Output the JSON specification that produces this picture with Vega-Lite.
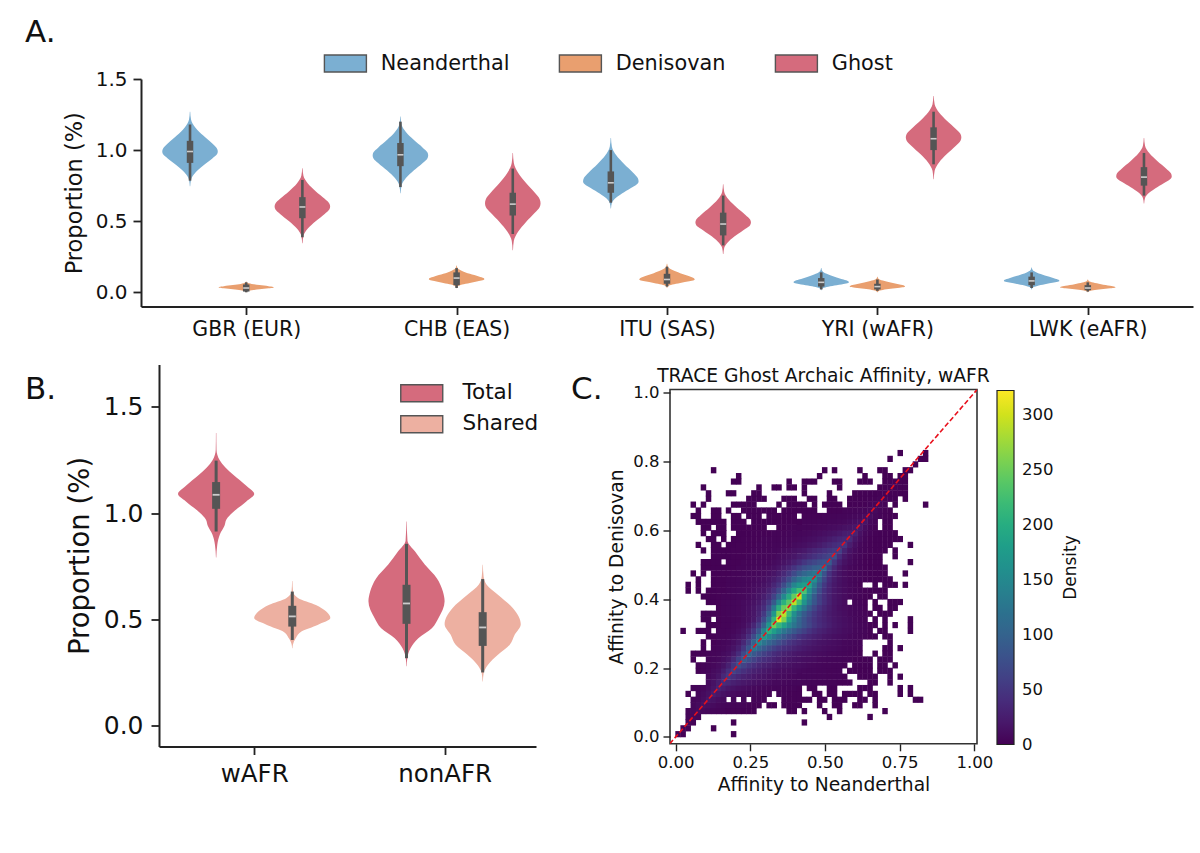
{
"$schema":"https://vega.github.io/schema/vega-lite/v6.json",
"background":"white",
"padding":{"left":25,"top":17,"right":5,"bottom":5},
"config":{"view":{"stroke":null},"font":"DejaVu Sans","axis":{"grid":false,"domainColor":"#222","tickColor":"#222","labelColor":"#111","titleColor":"#111","titleFontWeight":"normal"},"title":{"fontWeight":"normal","color":"#111"}},
"datasets":{
"violinA":[
{"pop":0,"sp":"Neanderthal","v":1.27,"lo":-0.268,"hi":-0.266},{"pop":0,"sp":"Neanderthal","v":1.214,"lo":-0.272,"hi":-0.262},{"pop":0,"sp":"Neanderthal","v":1.158,"lo":-0.293,"hi":-0.241},{"pop":0,"sp":"Neanderthal","v":1.102,"lo":-0.33,"hi":-0.204},{"pop":0,"sp":"Neanderthal","v":1.046,"lo":-0.373,"hi":-0.161},{"pop":0,"sp":"Neanderthal","v":1.012,"lo":-0.395,"hi":-0.139},{"pop":0,"sp":"Neanderthal","v":0.99,"lo":-0.399,"hi":-0.135},{"pop":0,"sp":"Neanderthal","v":0.97,"lo":-0.395,"hi":-0.139},{"pop":0,"sp":"Neanderthal","v":0.941,"lo":-0.373,"hi":-0.161},{"pop":0,"sp":"Neanderthal","v":0.892,"lo":-0.33,"hi":-0.204},{"pop":0,"sp":"Neanderthal","v":0.843,"lo":-0.293,"hi":-0.241},{"pop":0,"sp":"Neanderthal","v":0.794,"lo":-0.272,"hi":-0.262},{"pop":0,"sp":"Neanderthal","v":0.745,"lo":-0.268,"hi":-0.266},
{"pop":0,"sp":"Denisovan","v":0.075,"lo":-0.001,"hi":0.001},{"pop":0,"sp":"Denisovan","v":0.067,"lo":-0.005,"hi":0.005},{"pop":0,"sp":"Denisovan","v":0.059,"lo":-0.026,"hi":0.026},{"pop":0,"sp":"Denisovan","v":0.051,"lo":-0.063,"hi":0.063},{"pop":0,"sp":"Denisovan","v":0.043,"lo":-0.106,"hi":0.106},{"pop":0,"sp":"Denisovan","v":0.038,"lo":-0.128,"hi":0.128},{"pop":0,"sp":"Denisovan","v":0.035,"lo":-0.132,"hi":0.132},{"pop":0,"sp":"Denisovan","v":0.032,"lo":-0.128,"hi":0.128},{"pop":0,"sp":"Denisovan","v":0.028,"lo":-0.106,"hi":0.106},{"pop":0,"sp":"Denisovan","v":0.021,"lo":-0.063,"hi":0.063},{"pop":0,"sp":"Denisovan","v":0.014,"lo":-0.026,"hi":0.026},{"pop":0,"sp":"Denisovan","v":0.007,"lo":-0.005,"hi":0.005},{"pop":0,"sp":"Denisovan","v":0,"lo":-0.001,"hi":0.001},
{"pop":0,"sp":"Ghost","v":0.873,"lo":0.266,"hi":0.268},{"pop":0,"sp":"Ghost","v":0.819,"lo":0.262,"hi":0.272},{"pop":0,"sp":"Ghost","v":0.765,"lo":0.241,"hi":0.293},{"pop":0,"sp":"Ghost","v":0.711,"lo":0.204,"hi":0.33},{"pop":0,"sp":"Ghost","v":0.657,"lo":0.161,"hi":0.373},{"pop":0,"sp":"Ghost","v":0.625,"lo":0.139,"hi":0.395},{"pop":0,"sp":"Ghost","v":0.603,"lo":0.135,"hi":0.399},{"pop":0,"sp":"Ghost","v":0.582,"lo":0.139,"hi":0.395},{"pop":0,"sp":"Ghost","v":0.551,"lo":0.161,"hi":0.373},{"pop":0,"sp":"Ghost","v":0.5,"lo":0.204,"hi":0.33},{"pop":0,"sp":"Ghost","v":0.448,"lo":0.241,"hi":0.293},{"pop":0,"sp":"Ghost","v":0.397,"lo":0.262,"hi":0.272},{"pop":0,"sp":"Ghost","v":0.345,"lo":0.266,"hi":0.268},
{"pop":1,"sp":"Neanderthal","v":1.237,"lo":0.732,"hi":0.734},{"pop":1,"sp":"Neanderthal","v":1.182,"lo":0.728,"hi":0.738},{"pop":1,"sp":"Neanderthal","v":1.127,"lo":0.707,"hi":0.759},{"pop":1,"sp":"Neanderthal","v":1.072,"lo":0.67,"hi":0.796},{"pop":1,"sp":"Neanderthal","v":1.017,"lo":0.627,"hi":0.839},{"pop":1,"sp":"Neanderthal","v":0.984,"lo":0.605,"hi":0.861},{"pop":1,"sp":"Neanderthal","v":0.962,"lo":0.601,"hi":0.865},{"pop":1,"sp":"Neanderthal","v":0.941,"lo":0.605,"hi":0.861},{"pop":1,"sp":"Neanderthal","v":0.909,"lo":0.627,"hi":0.839},{"pop":1,"sp":"Neanderthal","v":0.856,"lo":0.67,"hi":0.796},{"pop":1,"sp":"Neanderthal","v":0.803,"lo":0.707,"hi":0.759},{"pop":1,"sp":"Neanderthal","v":0.75,"lo":0.728,"hi":0.738},{"pop":1,"sp":"Neanderthal","v":0.697,"lo":0.732,"hi":0.734},
{"pop":1,"sp":"Denisovan","v":0.188,"lo":0.999,"hi":1.001},{"pop":1,"sp":"Denisovan","v":0.169,"lo":0.995,"hi":1.005},{"pop":1,"sp":"Denisovan","v":0.15,"lo":0.974,"hi":1.026},{"pop":1,"sp":"Denisovan","v":0.13,"lo":0.937,"hi":1.063},{"pop":1,"sp":"Denisovan","v":0.111,"lo":0.894,"hi":1.106},{"pop":1,"sp":"Denisovan","v":0.1,"lo":0.872,"hi":1.128},{"pop":1,"sp":"Denisovan","v":0.092,"lo":0.868,"hi":1.132},{"pop":1,"sp":"Denisovan","v":0.087,"lo":0.872,"hi":1.128},{"pop":1,"sp":"Denisovan","v":0.079,"lo":0.894,"hi":1.106},{"pop":1,"sp":"Denisovan","v":0.066,"lo":0.937,"hi":1.063},{"pop":1,"sp":"Denisovan","v":0.054,"lo":0.974,"hi":1.026},{"pop":1,"sp":"Denisovan","v":0.041,"lo":0.995,"hi":1.005},{"pop":1,"sp":"Denisovan","v":0.028,"lo":0.999,"hi":1.001},
{"pop":1,"sp":"Ghost","v":0.98,"lo":1.266,"hi":1.268},{"pop":1,"sp":"Ghost","v":0.909,"lo":1.262,"hi":1.272},{"pop":1,"sp":"Ghost","v":0.839,"lo":1.241,"hi":1.293},{"pop":1,"sp":"Ghost","v":0.768,"lo":1.204,"hi":1.33},{"pop":1,"sp":"Ghost","v":0.698,"lo":1.161,"hi":1.373},{"pop":1,"sp":"Ghost","v":0.655,"lo":1.139,"hi":1.395},{"pop":1,"sp":"Ghost","v":0.627,"lo":1.135,"hi":1.399},{"pop":1,"sp":"Ghost","v":0.6,"lo":1.139,"hi":1.395},{"pop":1,"sp":"Ghost","v":0.561,"lo":1.161,"hi":1.373},{"pop":1,"sp":"Ghost","v":0.495,"lo":1.204,"hi":1.33},{"pop":1,"sp":"Ghost","v":0.428,"lo":1.241,"hi":1.293},{"pop":1,"sp":"Ghost","v":0.362,"lo":1.262,"hi":1.272},{"pop":1,"sp":"Ghost","v":0.296,"lo":1.266,"hi":1.268},
{"pop":2,"sp":"Neanderthal","v":1.085,"lo":1.732,"hi":1.734},{"pop":2,"sp":"Neanderthal","v":1.024,"lo":1.728,"hi":1.738},{"pop":2,"sp":"Neanderthal","v":0.963,"lo":1.707,"hi":1.759},{"pop":2,"sp":"Neanderthal","v":0.902,"lo":1.67,"hi":1.796},{"pop":2,"sp":"Neanderthal","v":0.841,"lo":1.627,"hi":1.839},{"pop":2,"sp":"Neanderthal","v":0.804,"lo":1.605,"hi":1.861},{"pop":2,"sp":"Neanderthal","v":0.78,"lo":1.601,"hi":1.865},{"pop":2,"sp":"Neanderthal","v":0.765,"lo":1.605,"hi":1.861},{"pop":2,"sp":"Neanderthal","v":0.742,"lo":1.627,"hi":1.839},{"pop":2,"sp":"Neanderthal","v":0.704,"lo":1.67,"hi":1.796},{"pop":2,"sp":"Neanderthal","v":0.666,"lo":1.707,"hi":1.759},{"pop":2,"sp":"Neanderthal","v":0.628,"lo":1.728,"hi":1.738},{"pop":2,"sp":"Neanderthal","v":0.59,"lo":1.732,"hi":1.734},
{"pop":2,"sp":"Denisovan","v":0.2,"lo":1.999,"hi":2.001},{"pop":2,"sp":"Denisovan","v":0.178,"lo":1.995,"hi":2.005},{"pop":2,"sp":"Denisovan","v":0.156,"lo":1.974,"hi":2.026},{"pop":2,"sp":"Denisovan","v":0.134,"lo":1.937,"hi":2.063},{"pop":2,"sp":"Denisovan","v":0.112,"lo":1.894,"hi":2.106},{"pop":2,"sp":"Denisovan","v":0.099,"lo":1.872,"hi":2.128},{"pop":2,"sp":"Denisovan","v":0.09,"lo":1.868,"hi":2.132},{"pop":2,"sp":"Denisovan","v":0.085,"lo":1.872,"hi":2.128},{"pop":2,"sp":"Denisovan","v":0.078,"lo":1.894,"hi":2.106},{"pop":2,"sp":"Denisovan","v":0.066,"lo":1.937,"hi":2.063},{"pop":2,"sp":"Denisovan","v":0.054,"lo":1.974,"hi":2.026},{"pop":2,"sp":"Denisovan","v":0.042,"lo":1.995,"hi":2.005},{"pop":2,"sp":"Denisovan","v":0.03,"lo":1.999,"hi":2.001},
{"pop":2,"sp":"Ghost","v":0.76,"lo":2.266,"hi":2.268},{"pop":2,"sp":"Ghost","v":0.706,"lo":2.262,"hi":2.272},{"pop":2,"sp":"Ghost","v":0.652,"lo":2.241,"hi":2.293},{"pop":2,"sp":"Ghost","v":0.598,"lo":2.204,"hi":2.33},{"pop":2,"sp":"Ghost","v":0.544,"lo":2.161,"hi":2.373},{"pop":2,"sp":"Ghost","v":0.512,"lo":2.139,"hi":2.395},{"pop":2,"sp":"Ghost","v":0.49,"lo":2.135,"hi":2.399},{"pop":2,"sp":"Ghost","v":0.472,"lo":2.139,"hi":2.395},{"pop":2,"sp":"Ghost","v":0.446,"lo":2.161,"hi":2.373},{"pop":2,"sp":"Ghost","v":0.402,"lo":2.204,"hi":2.33},{"pop":2,"sp":"Ghost","v":0.358,"lo":2.241,"hi":2.293},{"pop":2,"sp":"Ghost","v":0.314,"lo":2.262,"hi":2.272},{"pop":2,"sp":"Ghost","v":0.27,"lo":2.266,"hi":2.268},
{"pop":3,"sp":"Neanderthal","v":0.17,"lo":2.732,"hi":2.734},{"pop":3,"sp":"Neanderthal","v":0.15,"lo":2.728,"hi":2.738},{"pop":3,"sp":"Neanderthal","v":0.13,"lo":2.707,"hi":2.759},{"pop":3,"sp":"Neanderthal","v":0.11,"lo":2.67,"hi":2.796},{"pop":3,"sp":"Neanderthal","v":0.09,"lo":2.627,"hi":2.839},{"pop":3,"sp":"Neanderthal","v":0.078,"lo":2.605,"hi":2.861},{"pop":3,"sp":"Neanderthal","v":0.07,"lo":2.601,"hi":2.865},{"pop":3,"sp":"Neanderthal","v":0.066,"lo":2.605,"hi":2.861},{"pop":3,"sp":"Neanderthal","v":0.059,"lo":2.627,"hi":2.839},{"pop":3,"sp":"Neanderthal","v":0.048,"lo":2.67,"hi":2.796},{"pop":3,"sp":"Neanderthal","v":0.037,"lo":2.707,"hi":2.759},{"pop":3,"sp":"Neanderthal","v":0.026,"lo":2.728,"hi":2.738},{"pop":3,"sp":"Neanderthal","v":0.015,"lo":2.732,"hi":2.734},
{"pop":3,"sp":"Denisovan","v":0.11,"lo":2.999,"hi":3.001},{"pop":3,"sp":"Denisovan","v":0.096,"lo":2.995,"hi":3.005},{"pop":3,"sp":"Denisovan","v":0.082,"lo":2.974,"hi":3.026},{"pop":3,"sp":"Denisovan","v":0.068,"lo":2.937,"hi":3.063},{"pop":3,"sp":"Denisovan","v":0.054,"lo":2.894,"hi":3.106},{"pop":3,"sp":"Denisovan","v":0.046,"lo":2.872,"hi":3.128},{"pop":3,"sp":"Denisovan","v":0.04,"lo":2.868,"hi":3.132},{"pop":3,"sp":"Denisovan","v":0.037,"lo":2.872,"hi":3.128},{"pop":3,"sp":"Denisovan","v":0.032,"lo":2.894,"hi":3.106},{"pop":3,"sp":"Denisovan","v":0.024,"lo":2.937,"hi":3.063},{"pop":3,"sp":"Denisovan","v":0.016,"lo":2.974,"hi":3.026},{"pop":3,"sp":"Denisovan","v":0.008,"lo":2.995,"hi":3.005},{"pop":3,"sp":"Denisovan","v":0,"lo":2.999,"hi":3.001},
{"pop":3,"sp":"Ghost","v":1.38,"lo":3.266,"hi":3.268},{"pop":3,"sp":"Ghost","v":1.322,"lo":3.262,"hi":3.272},{"pop":3,"sp":"Ghost","v":1.264,"lo":3.241,"hi":3.293},{"pop":3,"sp":"Ghost","v":1.206,"lo":3.204,"hi":3.33},{"pop":3,"sp":"Ghost","v":1.148,"lo":3.161,"hi":3.373},{"pop":3,"sp":"Ghost","v":1.113,"lo":3.139,"hi":3.395},{"pop":3,"sp":"Ghost","v":1.09,"lo":3.135,"hi":3.399},{"pop":3,"sp":"Ghost","v":1.066,"lo":3.139,"hi":3.395},{"pop":3,"sp":"Ghost","v":1.031,"lo":3.161,"hi":3.373},{"pop":3,"sp":"Ghost","v":0.972,"lo":3.204,"hi":3.33},{"pop":3,"sp":"Ghost","v":0.913,"lo":3.241,"hi":3.293},{"pop":3,"sp":"Ghost","v":0.854,"lo":3.262,"hi":3.272},{"pop":3,"sp":"Ghost","v":0.795,"lo":3.266,"hi":3.268},
{"pop":4,"sp":"Neanderthal","v":0.175,"lo":3.732,"hi":3.734},{"pop":4,"sp":"Neanderthal","v":0.156,"lo":3.728,"hi":3.738},{"pop":4,"sp":"Neanderthal","v":0.137,"lo":3.707,"hi":3.759},{"pop":4,"sp":"Neanderthal","v":0.118,"lo":3.67,"hi":3.796},{"pop":4,"sp":"Neanderthal","v":0.099,"lo":3.627,"hi":3.839},{"pop":4,"sp":"Neanderthal","v":0.088,"lo":3.605,"hi":3.861},{"pop":4,"sp":"Neanderthal","v":0.08,"lo":3.601,"hi":3.865},{"pop":4,"sp":"Neanderthal","v":0.075,"lo":3.605,"hi":3.861},{"pop":4,"sp":"Neanderthal","v":0.068,"lo":3.627,"hi":3.839},{"pop":4,"sp":"Neanderthal","v":0.056,"lo":3.67,"hi":3.796},{"pop":4,"sp":"Neanderthal","v":0.044,"lo":3.707,"hi":3.759},{"pop":4,"sp":"Neanderthal","v":0.032,"lo":3.728,"hi":3.738},{"pop":4,"sp":"Neanderthal","v":0.02,"lo":3.732,"hi":3.734},
{"pop":4,"sp":"Denisovan","v":0.09,"lo":3.999,"hi":4.001},{"pop":4,"sp":"Denisovan","v":0.079,"lo":3.995,"hi":4.005},{"pop":4,"sp":"Denisovan","v":0.068,"lo":3.974,"hi":4.026},{"pop":4,"sp":"Denisovan","v":0.057,"lo":3.937,"hi":4.063},{"pop":4,"sp":"Denisovan","v":0.046,"lo":3.894,"hi":4.106},{"pop":4,"sp":"Denisovan","v":0.039,"lo":3.872,"hi":4.128},{"pop":4,"sp":"Denisovan","v":0.035,"lo":3.868,"hi":4.132},{"pop":4,"sp":"Denisovan","v":0.032,"lo":3.872,"hi":4.128},{"pop":4,"sp":"Denisovan","v":0.028,"lo":3.894,"hi":4.106},{"pop":4,"sp":"Denisovan","v":0.021,"lo":3.937,"hi":4.063},{"pop":4,"sp":"Denisovan","v":0.014,"lo":3.974,"hi":4.026},{"pop":4,"sp":"Denisovan","v":0.007,"lo":3.995,"hi":4.005},{"pop":4,"sp":"Denisovan","v":0,"lo":3.999,"hi":4.001},
{"pop":4,"sp":"Ghost","v":1.085,"lo":4.266,"hi":4.268},{"pop":4,"sp":"Ghost","v":1.031,"lo":4.262,"hi":4.272},{"pop":4,"sp":"Ghost","v":0.977,"lo":4.241,"hi":4.293},{"pop":4,"sp":"Ghost","v":0.923,"lo":4.204,"hi":4.33},{"pop":4,"sp":"Ghost","v":0.869,"lo":4.161,"hi":4.373},{"pop":4,"sp":"Ghost","v":0.837,"lo":4.139,"hi":4.395},{"pop":4,"sp":"Ghost","v":0.815,"lo":4.135,"hi":4.399},{"pop":4,"sp":"Ghost","v":0.8,"lo":4.139,"hi":4.395},{"pop":4,"sp":"Ghost","v":0.777,"lo":4.161,"hi":4.373},{"pop":4,"sp":"Ghost","v":0.739,"lo":4.204,"hi":4.33},{"pop":4,"sp":"Ghost","v":0.701,"lo":4.241,"hi":4.293},{"pop":4,"sp":"Ghost","v":0.663,"lo":4.262,"hi":4.272},{"pop":4,"sp":"Ghost","v":0.625,"lo":4.266,"hi":4.268}
],
"boxA":[
{"c":-0.267,"wlo":0.785,"q1":0.91,"med":0.99,"q3":1.065,"whi":1.18},
{"c":0,"wlo":0,"q1":0.005,"med":0.03,"q3":0.055,"whi":0.07},
{"c":0.267,"wlo":0.387,"q1":0.521,"med":0.6,"q3":0.669,"whi":0.79},
{"c":0.733,"wlo":0.74,"q1":0.887,"med":0.967,"q3":1.05,"whi":1.2},
{"c":1,"wlo":0.03,"q1":0.05,"med":0.1,"q3":0.14,"whi":0.17},
{"c":1.267,"wlo":0.41,"q1":0.54,"med":0.62,"q3":0.7,"whi":0.87},
{"c":1.733,"wlo":0.63,"q1":0.7,"med":0.77,"q3":0.85,"whi":1},
{"c":2,"wlo":0.04,"q1":0.06,"med":0.09,"q3":0.13,"whi":0.18},
{"c":2.267,"wlo":0.33,"q1":0.4,"med":0.48,"q3":0.56,"whi":0.68},
{"c":2.733,"wlo":0.02,"q1":0.04,"med":0.07,"q3":0.1,"whi":0.14},
{"c":3,"wlo":0.01,"q1":0.02,"med":0.04,"q3":0.06,"whi":0.09},
{"c":3.267,"wlo":0.9,"q1":1,"med":1.08,"q3":1.16,"whi":1.27},
{"c":3.733,"wlo":0.03,"q1":0.05,"med":0.08,"q3":0.11,"whi":0.14},
{"c":4,"wlo":0.005,"q1":0.015,"med":0.03,"q3":0.05,"whi":0.07},
{"c":4.267,"wlo":0.68,"q1":0.75,"med":0.81,"q3":0.88,"whi":0.98}
],
"violinB":[
{"pop":0,"sp":"Total","v":1.377,"lo":-0.201,"hi":-0.199},{"pop":0,"sp":"Total","v":1.3,"lo":-0.202,"hi":-0.198},{"pop":0,"sp":"Total","v":1.25,"lo":-0.218,"hi":-0.182},{"pop":0,"sp":"Total","v":1.18,"lo":-0.29,"hi":-0.11},{"pop":0,"sp":"Total","v":1.127,"lo":-0.36,"hi":-0.04},{"pop":0,"sp":"Total","v":1.09,"lo":-0.4,"hi":0},{"pop":0,"sp":"Total","v":1.056,"lo":-0.36,"hi":-0.04},{"pop":0,"sp":"Total","v":1,"lo":-0.284,"hi":-0.116},{"pop":0,"sp":"Total","v":0.97,"lo":-0.254,"hi":-0.146},{"pop":0,"sp":"Total","v":0.94,"lo":-0.244,"hi":-0.156},{"pop":0,"sp":"Total","v":0.9,"lo":-0.22,"hi":-0.18},{"pop":0,"sp":"Total","v":0.85,"lo":-0.206,"hi":-0.194},{"pop":0,"sp":"Total","v":0.79,"lo":-0.201,"hi":-0.199},
{"pop":0,"sp":"Shared","v":0.68,"lo":0.199,"hi":0.201},{"pop":0,"sp":"Shared","v":0.63,"lo":0.196,"hi":0.204},{"pop":0,"sp":"Shared","v":0.6,"lo":0.17,"hi":0.23},{"pop":0,"sp":"Shared","v":0.567,"lo":0.076,"hi":0.324},{"pop":0,"sp":"Shared","v":0.537,"lo":0.023,"hi":0.377},{"pop":0,"sp":"Shared","v":0.505,"lo":0,"hi":0.4},{"pop":0,"sp":"Shared","v":0.473,"lo":0.067,"hi":0.333},{"pop":0,"sp":"Shared","v":0.443,"lo":0.15,"hi":0.25},{"pop":0,"sp":"Shared","v":0.41,"lo":0.182,"hi":0.218},{"pop":0,"sp":"Shared","v":0.38,"lo":0.197,"hi":0.203},{"pop":0,"sp":"Shared","v":0.363,"lo":0.199,"hi":0.201},
{"pop":1,"sp":"Total","v":0.96,"lo":0.799,"hi":0.801},{"pop":1,"sp":"Total","v":0.87,"lo":0.795,"hi":0.805},{"pop":1,"sp":"Total","v":0.82,"lo":0.756,"hi":0.844},{"pop":1,"sp":"Total","v":0.756,"lo":0.703,"hi":0.897},{"pop":1,"sp":"Total","v":0.693,"lo":0.641,"hi":0.959},{"pop":1,"sp":"Total","v":0.63,"lo":0.609,"hi":0.991},{"pop":1,"sp":"Total","v":0.584,"lo":0.6,"hi":1},{"pop":1,"sp":"Total","v":0.505,"lo":0.632,"hi":0.968},{"pop":1,"sp":"Total","v":0.457,"lo":0.667,"hi":0.933},{"pop":1,"sp":"Total","v":0.41,"lo":0.738,"hi":0.862},{"pop":1,"sp":"Total","v":0.363,"lo":0.779,"hi":0.821},{"pop":1,"sp":"Total","v":0.316,"lo":0.796,"hi":0.804},{"pop":1,"sp":"Total","v":0.278,"lo":0.799,"hi":0.801},
{"pop":1,"sp":"Shared","v":0.756,"lo":1.199,"hi":1.201},{"pop":1,"sp":"Shared","v":0.7,"lo":1.195,"hi":1.205},{"pop":1,"sp":"Shared","v":0.662,"lo":1.179,"hi":1.221},{"pop":1,"sp":"Shared","v":0.615,"lo":1.12,"hi":1.28},{"pop":1,"sp":"Shared","v":0.552,"lo":1.041,"hi":1.359},{"pop":1,"sp":"Shared","v":0.476,"lo":1,"hi":1.4},{"pop":1,"sp":"Shared","v":0.426,"lo":1.032,"hi":1.368},{"pop":1,"sp":"Shared","v":0.379,"lo":1.058,"hi":1.342},{"pop":1,"sp":"Shared","v":0.332,"lo":1.12,"hi":1.28},{"pop":1,"sp":"Shared","v":0.284,"lo":1.173,"hi":1.227},{"pop":1,"sp":"Shared","v":0.245,"lo":1.195,"hi":1.205},{"pop":1,"sp":"Shared","v":0.206,"lo":1.199,"hi":1.201}
],
"boxB":[
{"c":-0.2,"wlo":0.913,"q1":1.02,"med":1.086,"q3":1.146,"whi":1.247},
{"c":0.2,"wlo":0.402,"q1":0.465,"med":0.513,"q3":0.563,"whi":0.63},
{"c":0.8,"wlo":0.316,"q1":0.478,"med":0.574,"q3":0.662,"whi":0.855},
{"c":1.2,"wlo":0.249,"q1":0.374,"med":0.461,"q3":0.533,"whi":0.689}
],
"heat":[
{"x":0.008,"y":0.008,"n":3},{"x":0.025,"y":0.008,"n":2},{"x":0.194,"y":0.008,"n":1},
{"x":0.025,"y":0.025,"n":3},{"x":0.042,"y":0.025,"n":3},{"x":0.127,"y":0.025,"n":1},
{"x":0.042,"y":0.042,"n":4},{"x":0.059,"y":0.042,"n":3},{"x":0.194,"y":0.042,"n":1},{"x":0.431,"y":0.042,"n":1},
{"x":0.042,"y":0.058,"n":4},{"x":0.059,"y":0.058,"n":6},{"x":0.076,"y":0.058,"n":4},{"x":0.515,"y":0.058,"n":1},{"x":0.651,"y":0.058,"n":1},
{"x":0.042,"y":0.075,"n":3},{"x":0.059,"y":0.075,"n":6},{"x":0.076,"y":0.075,"n":8},{"x":0.093,"y":0.075,"n":7},{"x":0.11,"y":0.075,"n":5},{"x":0.127,"y":0.075,"n":4},{"x":0.144,"y":0.075,"n":3},{"x":0.161,"y":0.075,"n":3},{"x":0.177,"y":0.075,"n":2},{"x":0.194,"y":0.075,"n":2},{"x":0.211,"y":0.075,"n":2},{"x":0.228,"y":0.075,"n":1},{"x":0.245,"y":0.075,"n":1},{"x":0.262,"y":0.075,"n":1},{"x":0.38,"y":0.075,"n":1},{"x":0.397,"y":0.075,"n":1},{"x":0.431,"y":0.075,"n":1},{"x":0.499,"y":0.075,"n":1},{"x":0.549,"y":0.075,"n":1},{"x":0.701,"y":0.075,"n":1},
{"x":0.059,"y":0.092,"n":5},{"x":0.076,"y":0.092,"n":8},{"x":0.093,"y":0.092,"n":13},{"x":0.11,"y":0.092,"n":10},{"x":0.127,"y":0.092,"n":8},{"x":0.144,"y":0.092,"n":6},{"x":0.161,"y":0.092,"n":5},{"x":0.177,"y":0.092,"n":4},{"x":0.194,"y":0.092,"n":3},{"x":0.211,"y":0.092,"n":3},{"x":0.228,"y":0.092,"n":3},{"x":0.245,"y":0.092,"n":2},{"x":0.262,"y":0.092,"n":2},{"x":0.279,"y":0.092,"n":2},{"x":0.33,"y":0.092,"n":1},{"x":0.313,"y":0.092,"n":1},{"x":0.363,"y":0.092,"n":1},{"x":0.38,"y":0.092,"n":1},{"x":0.397,"y":0.092,"n":1},{"x":0.414,"y":0.092,"n":1},{"x":0.482,"y":0.092,"n":1},{"x":0.532,"y":0.092,"n":1},{"x":0.549,"y":0.092,"n":1},{"x":0.6,"y":0.092,"n":1},{"x":0.617,"y":0.092,"n":1},{"x":0.668,"y":0.092,"n":1},
{"x":0.059,"y":0.108,"n":4},{"x":0.076,"y":0.108,"n":6},{"x":0.093,"y":0.108,"n":10},{"x":0.11,"y":0.108,"n":18},{"x":0.127,"y":0.108,"n":14},{"x":0.144,"y":0.108,"n":10},{"x":0.161,"y":0.108,"n":8},{"x":0.194,"y":0.108,"n":5},{"x":0.228,"y":0.108,"n":4},{"x":0.262,"y":0.108,"n":3},{"x":0.279,"y":0.108,"n":3},{"x":0.296,"y":0.108,"n":3},{"x":0.363,"y":0.108,"n":2},{"x":0.38,"y":0.108,"n":2},{"x":0.397,"y":0.108,"n":2},{"x":0.414,"y":0.108,"n":2},{"x":0.431,"y":0.108,"n":1},{"x":0.448,"y":0.108,"n":1},{"x":0.482,"y":0.108,"n":1},{"x":0.499,"y":0.108,"n":1},{"x":0.532,"y":0.108,"n":1},{"x":0.549,"y":0.108,"n":1},{"x":0.566,"y":0.108,"n":1},{"x":0.617,"y":0.108,"n":1},{"x":0.634,"y":0.108,"n":1},{"x":0.668,"y":0.108,"n":1},{"x":0.803,"y":0.108,"n":1},{"x":0.82,"y":0.108,"n":1},
{"x":0.042,"y":0.125,"n":2},{"x":0.076,"y":0.125,"n":5},{"x":0.093,"y":0.125,"n":8},{"x":0.11,"y":0.125,"n":13},{"x":0.127,"y":0.125,"n":24},{"x":0.144,"y":0.125,"n":18},{"x":0.161,"y":0.125,"n":14},{"x":0.177,"y":0.125,"n":11},{"x":0.194,"y":0.125,"n":9},{"x":0.211,"y":0.125,"n":7},{"x":0.228,"y":0.125,"n":6},{"x":0.245,"y":0.125,"n":5},{"x":0.262,"y":0.125,"n":4},{"x":0.279,"y":0.125,"n":4},{"x":0.296,"y":0.125,"n":3},{"x":0.313,"y":0.125,"n":3},{"x":0.346,"y":0.125,"n":3},{"x":0.363,"y":0.125,"n":3},{"x":0.38,"y":0.125,"n":2},{"x":0.397,"y":0.125,"n":2},{"x":0.414,"y":0.125,"n":2},{"x":0.465,"y":0.125,"n":2},{"x":0.482,"y":0.125,"n":1},{"x":0.515,"y":0.125,"n":1},{"x":0.532,"y":0.125,"n":1},{"x":0.566,"y":0.125,"n":1},{"x":0.583,"y":0.125,"n":1},{"x":0.6,"y":0.125,"n":1},{"x":0.617,"y":0.125,"n":1},{"x":0.651,"y":0.125,"n":1},{"x":0.668,"y":0.125,"n":1},{"x":0.752,"y":0.125,"n":1},{"x":0.786,"y":0.125,"n":1},
{"x":0.059,"y":0.142,"n":3},{"x":0.076,"y":0.142,"n":4},{"x":0.093,"y":0.142,"n":6},{"x":0.11,"y":0.142,"n":10},{"x":0.127,"y":0.142,"n":17},{"x":0.144,"y":0.142,"n":30},{"x":0.161,"y":0.142,"n":24},{"x":0.177,"y":0.142,"n":18},{"x":0.194,"y":0.142,"n":15},{"x":0.211,"y":0.142,"n":12},{"x":0.228,"y":0.142,"n":10},{"x":0.245,"y":0.142,"n":8},{"x":0.262,"y":0.142,"n":7},{"x":0.279,"y":0.142,"n":6},{"x":0.296,"y":0.142,"n":5},{"x":0.313,"y":0.142,"n":4},{"x":0.33,"y":0.142,"n":4},{"x":0.346,"y":0.142,"n":4},{"x":0.363,"y":0.142,"n":3},{"x":0.38,"y":0.142,"n":3},{"x":0.397,"y":0.142,"n":3},{"x":0.414,"y":0.142,"n":2},{"x":0.448,"y":0.142,"n":2},{"x":0.465,"y":0.142,"n":2},{"x":0.515,"y":0.142,"n":1},{"x":0.532,"y":0.142,"n":1},{"x":0.617,"y":0.142,"n":1},{"x":0.634,"y":0.142,"n":1},{"x":0.651,"y":0.142,"n":1},{"x":0.752,"y":0.142,"n":1},{"x":0.786,"y":0.142,"n":1},
{"x":0.11,"y":0.158,"n":8},{"x":0.127,"y":0.158,"n":14},{"x":0.144,"y":0.158,"n":24},{"x":0.161,"y":0.158,"n":40},{"x":0.177,"y":0.158,"n":34},{"x":0.194,"y":0.158,"n":27},{"x":0.211,"y":0.158,"n":23},{"x":0.228,"y":0.158,"n":20},{"x":0.245,"y":0.158,"n":17},{"x":0.262,"y":0.158,"n":14},{"x":0.279,"y":0.158,"n":12},{"x":0.296,"y":0.158,"n":11},{"x":0.313,"y":0.158,"n":9},{"x":0.33,"y":0.158,"n":7},{"x":0.346,"y":0.158,"n":7},{"x":0.363,"y":0.158,"n":6},{"x":0.38,"y":0.158,"n":5},{"x":0.397,"y":0.158,"n":5},{"x":0.414,"y":0.158,"n":5},{"x":0.431,"y":0.158,"n":4},{"x":0.448,"y":0.158,"n":4},{"x":0.465,"y":0.158,"n":4},{"x":0.482,"y":0.158,"n":3},{"x":0.499,"y":0.158,"n":3},{"x":0.515,"y":0.158,"n":3},{"x":0.532,"y":0.158,"n":3},{"x":0.549,"y":0.158,"n":2},{"x":0.566,"y":0.158,"n":2},{"x":0.583,"y":0.158,"n":2},{"x":0.651,"y":0.158,"n":1},{"x":0.668,"y":0.158,"n":1},{"x":0.718,"y":0.158,"n":1},
{"x":0.11,"y":0.175,"n":7},{"x":0.127,"y":0.175,"n":10},{"x":0.144,"y":0.175,"n":17},{"x":0.161,"y":0.175,"n":35},{"x":0.177,"y":0.175,"n":50},{"x":0.194,"y":0.175,"n":42},{"x":0.211,"y":0.175,"n":34},{"x":0.228,"y":0.175,"n":28},{"x":0.245,"y":0.175,"n":24},{"x":0.262,"y":0.175,"n":20},{"x":0.279,"y":0.175,"n":17},{"x":0.296,"y":0.175,"n":15},{"x":0.313,"y":0.175,"n":12},{"x":0.33,"y":0.175,"n":10},{"x":0.346,"y":0.175,"n":9},{"x":0.363,"y":0.175,"n":8},{"x":0.38,"y":0.175,"n":7},{"x":0.397,"y":0.175,"n":6},{"x":0.414,"y":0.175,"n":5},{"x":0.431,"y":0.175,"n":5},{"x":0.448,"y":0.175,"n":5},{"x":0.465,"y":0.175,"n":4},{"x":0.482,"y":0.175,"n":4},{"x":0.499,"y":0.175,"n":4},{"x":0.515,"y":0.175,"n":3},{"x":0.532,"y":0.175,"n":3},{"x":0.549,"y":0.175,"n":3},{"x":0.566,"y":0.175,"n":2},{"x":0.617,"y":0.175,"n":1},{"x":0.634,"y":0.175,"n":1},{"x":0.651,"y":0.175,"n":1},{"x":0.668,"y":0.175,"n":1},{"x":0.718,"y":0.175,"n":1},{"x":0.752,"y":0.175,"n":1},
{"x":0.076,"y":0.192,"n":2},{"x":0.093,"y":0.192,"n":3},{"x":0.11,"y":0.192,"n":5},{"x":0.127,"y":0.192,"n":8},{"x":0.144,"y":0.192,"n":12},{"x":0.161,"y":0.192,"n":24},{"x":0.177,"y":0.192,"n":42},{"x":0.194,"y":0.192,"n":62},{"x":0.211,"y":0.192,"n":52},{"x":0.228,"y":0.192,"n":43},{"x":0.245,"y":0.192,"n":35},{"x":0.262,"y":0.192,"n":28},{"x":0.279,"y":0.192,"n":24},{"x":0.296,"y":0.192,"n":20},{"x":0.313,"y":0.192,"n":16},{"x":0.33,"y":0.192,"n":13},{"x":0.346,"y":0.192,"n":12},{"x":0.363,"y":0.192,"n":10},{"x":0.38,"y":0.192,"n":9},{"x":0.397,"y":0.192,"n":8},{"x":0.414,"y":0.192,"n":7},{"x":0.431,"y":0.192,"n":6},{"x":0.448,"y":0.192,"n":5},{"x":0.465,"y":0.192,"n":5},{"x":0.482,"y":0.192,"n":4},{"x":0.499,"y":0.192,"n":4},{"x":0.515,"y":0.192,"n":3},{"x":0.532,"y":0.192,"n":3},{"x":0.549,"y":0.192,"n":3},{"x":0.583,"y":0.192,"n":1},{"x":0.6,"y":0.192,"n":1},{"x":0.617,"y":0.192,"n":1},{"x":0.634,"y":0.192,"n":1},{"x":0.651,"y":0.192,"n":1},{"x":0.684,"y":0.192,"n":1},{"x":0.701,"y":0.192,"n":1},{"x":0.718,"y":0.192,"n":1},
{"x":0.076,"y":0.208,"n":2},{"x":0.093,"y":0.208,"n":3},{"x":0.11,"y":0.208,"n":4},{"x":0.127,"y":0.208,"n":6},{"x":0.144,"y":0.208,"n":9},{"x":0.161,"y":0.208,"n":15},{"x":0.177,"y":0.208,"n":28},{"x":0.194,"y":0.208,"n":50},{"x":0.211,"y":0.208,"n":75},{"x":0.228,"y":0.208,"n":62},{"x":0.245,"y":0.208,"n":50},{"x":0.262,"y":0.208,"n":42},{"x":0.279,"y":0.208,"n":33},{"x":0.296,"y":0.208,"n":28},{"x":0.313,"y":0.208,"n":24},{"x":0.33,"y":0.208,"n":19},{"x":0.346,"y":0.208,"n":16},{"x":0.363,"y":0.208,"n":15},{"x":0.38,"y":0.208,"n":13},{"x":0.397,"y":0.208,"n":11},{"x":0.414,"y":0.208,"n":10},{"x":0.431,"y":0.208,"n":8},{"x":0.448,"y":0.208,"n":7},{"x":0.465,"y":0.208,"n":6},{"x":0.482,"y":0.208,"n":5},{"x":0.499,"y":0.208,"n":4},{"x":0.515,"y":0.208,"n":4},{"x":0.532,"y":0.208,"n":3},{"x":0.549,"y":0.208,"n":3},{"x":0.566,"y":0.208,"n":2},{"x":0.6,"y":0.208,"n":1},{"x":0.617,"y":0.208,"n":1},{"x":0.634,"y":0.208,"n":1},{"x":0.651,"y":0.208,"n":1},{"x":0.684,"y":0.208,"n":1},{"x":0.701,"y":0.208,"n":1},{"x":0.735,"y":0.208,"n":1},
{"x":0.059,"y":0.225,"n":2},{"x":0.11,"y":0.225,"n":3},{"x":0.127,"y":0.225,"n":5},{"x":0.144,"y":0.225,"n":7},{"x":0.161,"y":0.225,"n":11},{"x":0.177,"y":0.225,"n":18},{"x":0.194,"y":0.225,"n":35},{"x":0.211,"y":0.225,"n":60},{"x":0.228,"y":0.225,"n":90},{"x":0.245,"y":0.225,"n":75},{"x":0.262,"y":0.225,"n":62},{"x":0.279,"y":0.225,"n":50},{"x":0.296,"y":0.225,"n":42},{"x":0.313,"y":0.225,"n":36},{"x":0.33,"y":0.225,"n":30},{"x":0.346,"y":0.225,"n":25},{"x":0.363,"y":0.225,"n":20},{"x":0.38,"y":0.225,"n":18},{"x":0.397,"y":0.225,"n":15},{"x":0.414,"y":0.225,"n":13},{"x":0.431,"y":0.225,"n":11},{"x":0.448,"y":0.225,"n":10},{"x":0.465,"y":0.225,"n":9},{"x":0.482,"y":0.225,"n":7},{"x":0.499,"y":0.225,"n":6},{"x":0.515,"y":0.225,"n":5},{"x":0.532,"y":0.225,"n":4},{"x":0.549,"y":0.225,"n":4},{"x":0.566,"y":0.225,"n":3},{"x":0.583,"y":0.225,"n":3},{"x":0.6,"y":0.225,"n":2},{"x":0.617,"y":0.225,"n":2},{"x":0.634,"y":0.225,"n":1},{"x":0.651,"y":0.225,"n":1},{"x":0.684,"y":0.225,"n":1},{"x":0.701,"y":0.225,"n":1},{"x":0.718,"y":0.225,"n":1},
{"x":0.059,"y":0.242,"n":1},{"x":0.076,"y":0.242,"n":1},{"x":0.093,"y":0.242,"n":2},{"x":0.11,"y":0.242,"n":3},{"x":0.127,"y":0.242,"n":4},{"x":0.144,"y":0.242,"n":5},{"x":0.161,"y":0.242,"n":8},{"x":0.177,"y":0.242,"n":12},{"x":0.194,"y":0.242,"n":22},{"x":0.211,"y":0.242,"n":40},{"x":0.228,"y":0.242,"n":70},{"x":0.245,"y":0.242,"n":105},{"x":0.262,"y":0.242,"n":88},{"x":0.279,"y":0.242,"n":72},{"x":0.296,"y":0.242,"n":60},{"x":0.313,"y":0.242,"n":50},{"x":0.33,"y":0.242,"n":40},{"x":0.346,"y":0.242,"n":34},{"x":0.363,"y":0.242,"n":28},{"x":0.38,"y":0.242,"n":24},{"x":0.397,"y":0.242,"n":20},{"x":0.414,"y":0.242,"n":17},{"x":0.431,"y":0.242,"n":15},{"x":0.448,"y":0.242,"n":13},{"x":0.465,"y":0.242,"n":11},{"x":0.482,"y":0.242,"n":9},{"x":0.499,"y":0.242,"n":8},{"x":0.515,"y":0.242,"n":7},{"x":0.532,"y":0.242,"n":6},{"x":0.549,"y":0.242,"n":5},{"x":0.566,"y":0.242,"n":4},{"x":0.583,"y":0.242,"n":3},{"x":0.6,"y":0.242,"n":3},{"x":0.617,"y":0.242,"n":2},{"x":0.668,"y":0.242,"n":1},{"x":0.701,"y":0.242,"n":1},{"x":0.718,"y":0.242,"n":1},
{"x":0.093,"y":0.258,"n":1},{"x":0.127,"y":0.258,"n":3},{"x":0.144,"y":0.258,"n":4},{"x":0.161,"y":0.258,"n":6},{"x":0.177,"y":0.258,"n":9},{"x":0.194,"y":0.258,"n":15},{"x":0.211,"y":0.258,"n":26},{"x":0.228,"y":0.258,"n":50},{"x":0.245,"y":0.258,"n":85},{"x":0.262,"y":0.258,"n":125},{"x":0.279,"y":0.258,"n":105},{"x":0.296,"y":0.258,"n":88},{"x":0.313,"y":0.258,"n":72},{"x":0.33,"y":0.258,"n":60},{"x":0.346,"y":0.258,"n":50},{"x":0.363,"y":0.258,"n":42},{"x":0.38,"y":0.258,"n":36},{"x":0.397,"y":0.258,"n":30},{"x":0.414,"y":0.258,"n":25},{"x":0.431,"y":0.258,"n":21},{"x":0.448,"y":0.258,"n":18},{"x":0.465,"y":0.258,"n":15},{"x":0.482,"y":0.258,"n":13},{"x":0.499,"y":0.258,"n":11},{"x":0.515,"y":0.258,"n":9},{"x":0.532,"y":0.258,"n":8},{"x":0.549,"y":0.258,"n":7},{"x":0.566,"y":0.258,"n":5},{"x":0.583,"y":0.258,"n":4},{"x":0.6,"y":0.258,"n":3},{"x":0.617,"y":0.258,"n":3},{"x":0.701,"y":0.258,"n":1},{"x":0.718,"y":0.258,"n":1},{"x":0.752,"y":0.258,"n":1},
{"x":0.093,"y":0.275,"n":1},{"x":0.127,"y":0.275,"n":2},{"x":0.144,"y":0.275,"n":3},{"x":0.161,"y":0.275,"n":5},{"x":0.177,"y":0.275,"n":7},{"x":0.194,"y":0.275,"n":11},{"x":0.211,"y":0.275,"n":18},{"x":0.228,"y":0.275,"n":34},{"x":0.245,"y":0.275,"n":60},{"x":0.262,"y":0.275,"n":100},{"x":0.279,"y":0.275,"n":150},{"x":0.296,"y":0.275,"n":125},{"x":0.313,"y":0.275,"n":105},{"x":0.33,"y":0.275,"n":90},{"x":0.346,"y":0.275,"n":75},{"x":0.363,"y":0.275,"n":62},{"x":0.38,"y":0.275,"n":50},{"x":0.397,"y":0.275,"n":42},{"x":0.414,"y":0.275,"n":35},{"x":0.431,"y":0.275,"n":28},{"x":0.448,"y":0.275,"n":24},{"x":0.465,"y":0.275,"n":20},{"x":0.482,"y":0.275,"n":16},{"x":0.499,"y":0.275,"n":14},{"x":0.515,"y":0.275,"n":12},{"x":0.532,"y":0.275,"n":10},{"x":0.549,"y":0.275,"n":8},{"x":0.566,"y":0.275,"n":6},{"x":0.583,"y":0.275,"n":5},{"x":0.6,"y":0.275,"n":4},{"x":0.617,"y":0.275,"n":3},{"x":0.718,"y":0.275,"n":1},
{"x":0.11,"y":0.292,"n":2},{"x":0.127,"y":0.292,"n":2},{"x":0.144,"y":0.292,"n":3},{"x":0.161,"y":0.292,"n":4},{"x":0.177,"y":0.292,"n":5},{"x":0.194,"y":0.292,"n":8},{"x":0.211,"y":0.292,"n":13},{"x":0.228,"y":0.292,"n":22},{"x":0.245,"y":0.292,"n":42},{"x":0.262,"y":0.292,"n":72},{"x":0.279,"y":0.292,"n":120},{"x":0.296,"y":0.292,"n":175},{"x":0.313,"y":0.292,"n":150},{"x":0.33,"y":0.292,"n":125},{"x":0.346,"y":0.292,"n":105},{"x":0.363,"y":0.292,"n":88},{"x":0.38,"y":0.292,"n":72},{"x":0.397,"y":0.292,"n":60},{"x":0.414,"y":0.292,"n":48},{"x":0.431,"y":0.292,"n":40},{"x":0.448,"y":0.292,"n":33},{"x":0.465,"y":0.292,"n":27},{"x":0.482,"y":0.292,"n":23},{"x":0.499,"y":0.292,"n":18},{"x":0.515,"y":0.292,"n":15},{"x":0.532,"y":0.292,"n":12},{"x":0.549,"y":0.292,"n":10},{"x":0.566,"y":0.292,"n":8},{"x":0.583,"y":0.292,"n":6},{"x":0.6,"y":0.292,"n":5},{"x":0.617,"y":0.292,"n":4},{"x":0.634,"y":0.292,"n":3},{"x":0.651,"y":0.292,"n":2},{"x":0.668,"y":0.292,"n":1},{"x":0.701,"y":0.292,"n":1},{"x":0.718,"y":0.292,"n":1},
{"x":0.025,"y":0.308,"n":1},{"x":0.076,"y":0.308,"n":1},{"x":0.093,"y":0.308,"n":1},{"x":0.11,"y":0.308,"n":2},{"x":0.144,"y":0.308,"n":3},{"x":0.161,"y":0.308,"n":3},{"x":0.177,"y":0.308,"n":4},{"x":0.194,"y":0.308,"n":6},{"x":0.211,"y":0.308,"n":9},{"x":0.228,"y":0.308,"n":15},{"x":0.245,"y":0.308,"n":28},{"x":0.262,"y":0.308,"n":50},{"x":0.279,"y":0.308,"n":85},{"x":0.296,"y":0.308,"n":145},{"x":0.313,"y":0.308,"n":205},{"x":0.33,"y":0.308,"n":180},{"x":0.346,"y":0.308,"n":150},{"x":0.363,"y":0.308,"n":125},{"x":0.38,"y":0.308,"n":105},{"x":0.397,"y":0.308,"n":88},{"x":0.414,"y":0.308,"n":72},{"x":0.431,"y":0.308,"n":60},{"x":0.448,"y":0.308,"n":48},{"x":0.465,"y":0.308,"n":38},{"x":0.482,"y":0.308,"n":30},{"x":0.499,"y":0.308,"n":25},{"x":0.515,"y":0.308,"n":20},{"x":0.532,"y":0.308,"n":16},{"x":0.549,"y":0.308,"n":13},{"x":0.566,"y":0.308,"n":10},{"x":0.583,"y":0.308,"n":8},{"x":0.6,"y":0.308,"n":6},{"x":0.617,"y":0.308,"n":5},{"x":0.634,"y":0.308,"n":4},{"x":0.651,"y":0.308,"n":2},{"x":0.684,"y":0.308,"n":1},{"x":0.701,"y":0.308,"n":1},{"x":0.786,"y":0.308,"n":1},
{"x":0.11,"y":0.325,"n":1},{"x":0.127,"y":0.325,"n":1},{"x":0.144,"y":0.325,"n":2},{"x":0.161,"y":0.325,"n":3},{"x":0.177,"y":0.325,"n":3},{"x":0.194,"y":0.325,"n":5},{"x":0.211,"y":0.325,"n":7},{"x":0.228,"y":0.325,"n":10},{"x":0.245,"y":0.325,"n":18},{"x":0.262,"y":0.325,"n":32},{"x":0.279,"y":0.325,"n":58},{"x":0.296,"y":0.325,"n":100},{"x":0.313,"y":0.325,"n":170},{"x":0.33,"y":0.325,"n":250},{"x":0.346,"y":0.325,"n":215},{"x":0.363,"y":0.325,"n":185},{"x":0.38,"y":0.325,"n":150},{"x":0.397,"y":0.325,"n":125},{"x":0.414,"y":0.325,"n":100},{"x":0.431,"y":0.325,"n":80},{"x":0.448,"y":0.325,"n":65},{"x":0.465,"y":0.325,"n":50},{"x":0.482,"y":0.325,"n":40},{"x":0.499,"y":0.325,"n":32},{"x":0.515,"y":0.325,"n":25},{"x":0.532,"y":0.325,"n":19},{"x":0.549,"y":0.325,"n":15},{"x":0.566,"y":0.325,"n":12},{"x":0.583,"y":0.325,"n":9},{"x":0.6,"y":0.325,"n":7},{"x":0.617,"y":0.325,"n":5},{"x":0.634,"y":0.325,"n":4},{"x":0.651,"y":0.325,"n":2},{"x":0.668,"y":0.325,"n":1},{"x":0.701,"y":0.325,"n":1},{"x":0.735,"y":0.325,"n":1},{"x":0.786,"y":0.325,"n":1},
{"x":0.093,"y":0.342,"n":1},{"x":0.11,"y":0.342,"n":1},{"x":0.144,"y":0.342,"n":2},{"x":0.161,"y":0.342,"n":3},{"x":0.177,"y":0.342,"n":3},{"x":0.194,"y":0.342,"n":4},{"x":0.211,"y":0.342,"n":5},{"x":0.228,"y":0.342,"n":8},{"x":0.245,"y":0.342,"n":12},{"x":0.262,"y":0.342,"n":20},{"x":0.279,"y":0.342,"n":38},{"x":0.296,"y":0.342,"n":70},{"x":0.313,"y":0.342,"n":125},{"x":0.33,"y":0.342,"n":215},{"x":0.346,"y":0.342,"n":310},{"x":0.363,"y":0.342,"n":260},{"x":0.38,"y":0.342,"n":190},{"x":0.397,"y":0.342,"n":140},{"x":0.414,"y":0.342,"n":105},{"x":0.431,"y":0.342,"n":80},{"x":0.448,"y":0.342,"n":62},{"x":0.465,"y":0.342,"n":48},{"x":0.482,"y":0.342,"n":38},{"x":0.499,"y":0.342,"n":30},{"x":0.515,"y":0.342,"n":23},{"x":0.532,"y":0.342,"n":18},{"x":0.549,"y":0.342,"n":14},{"x":0.566,"y":0.342,"n":11},{"x":0.583,"y":0.342,"n":8},{"x":0.6,"y":0.342,"n":6},{"x":0.617,"y":0.342,"n":4},{"x":0.634,"y":0.342,"n":3},{"x":0.668,"y":0.342,"n":1},{"x":0.701,"y":0.342,"n":1},{"x":0.786,"y":0.342,"n":1},
{"x":0.093,"y":0.358,"n":1},{"x":0.11,"y":0.358,"n":1},{"x":0.127,"y":0.358,"n":2},{"x":0.144,"y":0.358,"n":2},{"x":0.161,"y":0.358,"n":3},{"x":0.177,"y":0.358,"n":4},{"x":0.194,"y":0.358,"n":5},{"x":0.211,"y":0.358,"n":6},{"x":0.228,"y":0.358,"n":8},{"x":0.245,"y":0.358,"n":12},{"x":0.262,"y":0.358,"n":18},{"x":0.279,"y":0.358,"n":30},{"x":0.296,"y":0.358,"n":52},{"x":0.313,"y":0.358,"n":95},{"x":0.33,"y":0.358,"n":170},{"x":0.346,"y":0.358,"n":260},{"x":0.363,"y":0.358,"n":290},{"x":0.38,"y":0.358,"n":220},{"x":0.397,"y":0.358,"n":160},{"x":0.414,"y":0.358,"n":120},{"x":0.431,"y":0.358,"n":90},{"x":0.448,"y":0.358,"n":70},{"x":0.465,"y":0.358,"n":52},{"x":0.482,"y":0.358,"n":40},{"x":0.499,"y":0.358,"n":30},{"x":0.515,"y":0.358,"n":22},{"x":0.532,"y":0.358,"n":17},{"x":0.549,"y":0.358,"n":13},{"x":0.566,"y":0.358,"n":10},{"x":0.583,"y":0.358,"n":7},{"x":0.6,"y":0.358,"n":5},{"x":0.617,"y":0.358,"n":4},{"x":0.634,"y":0.358,"n":3},{"x":0.651,"y":0.358,"n":2},{"x":0.684,"y":0.358,"n":1},{"x":0.701,"y":0.358,"n":1},{"x":0.718,"y":0.358,"n":1},
{"x":0.144,"y":0.375,"n":2},{"x":0.161,"y":0.375,"n":3},{"x":0.177,"y":0.375,"n":4},{"x":0.194,"y":0.375,"n":5},{"x":0.211,"y":0.375,"n":6},{"x":0.228,"y":0.375,"n":8},{"x":0.245,"y":0.375,"n":12},{"x":0.262,"y":0.375,"n":17},{"x":0.279,"y":0.375,"n":26},{"x":0.296,"y":0.375,"n":40},{"x":0.313,"y":0.375,"n":72},{"x":0.33,"y":0.375,"n":130},{"x":0.346,"y":0.375,"n":205},{"x":0.363,"y":0.375,"n":250},{"x":0.38,"y":0.375,"n":270},{"x":0.397,"y":0.375,"n":215},{"x":0.414,"y":0.375,"n":165},{"x":0.431,"y":0.375,"n":125},{"x":0.448,"y":0.375,"n":90},{"x":0.465,"y":0.375,"n":65},{"x":0.482,"y":0.375,"n":46},{"x":0.499,"y":0.375,"n":34},{"x":0.515,"y":0.375,"n":24},{"x":0.532,"y":0.375,"n":17},{"x":0.549,"y":0.375,"n":12},{"x":0.566,"y":0.375,"n":9},{"x":0.583,"y":0.375,"n":7},{"x":0.6,"y":0.375,"n":5},{"x":0.617,"y":0.375,"n":4},{"x":0.634,"y":0.375,"n":2},{"x":0.668,"y":0.375,"n":1},{"x":0.684,"y":0.375,"n":1},{"x":0.718,"y":0.375,"n":1},{"x":0.735,"y":0.375,"n":1},
{"x":0.11,"y":0.392,"n":1},{"x":0.127,"y":0.392,"n":1},{"x":0.144,"y":0.392,"n":2},{"x":0.161,"y":0.392,"n":3},{"x":0.177,"y":0.392,"n":4},{"x":0.194,"y":0.392,"n":5},{"x":0.211,"y":0.392,"n":6},{"x":0.228,"y":0.392,"n":8},{"x":0.245,"y":0.392,"n":10},{"x":0.262,"y":0.392,"n":14},{"x":0.279,"y":0.392,"n":20},{"x":0.296,"y":0.392,"n":32},{"x":0.313,"y":0.392,"n":52},{"x":0.33,"y":0.392,"n":90},{"x":0.346,"y":0.392,"n":150},{"x":0.363,"y":0.392,"n":205},{"x":0.38,"y":0.392,"n":240},{"x":0.397,"y":0.392,"n":290},{"x":0.414,"y":0.392,"n":230},{"x":0.431,"y":0.392,"n":165},{"x":0.448,"y":0.392,"n":120},{"x":0.465,"y":0.392,"n":85},{"x":0.482,"y":0.392,"n":60},{"x":0.499,"y":0.392,"n":42},{"x":0.515,"y":0.392,"n":28},{"x":0.532,"y":0.392,"n":18},{"x":0.549,"y":0.392,"n":13},{"x":0.566,"y":0.392,"n":9},{"x":0.6,"y":0.392,"n":4},{"x":0.617,"y":0.392,"n":3},{"x":0.634,"y":0.392,"n":2},{"x":0.668,"y":0.392,"n":1},{"x":0.718,"y":0.392,"n":1},{"x":0.735,"y":0.392,"n":1},{"x":0.752,"y":0.392,"n":1},
{"x":0.093,"y":0.408,"n":1},{"x":0.11,"y":0.408,"n":1},{"x":0.127,"y":0.408,"n":1},{"x":0.144,"y":0.408,"n":2},{"x":0.161,"y":0.408,"n":3},{"x":0.177,"y":0.408,"n":3},{"x":0.194,"y":0.408,"n":4},{"x":0.211,"y":0.408,"n":5},{"x":0.228,"y":0.408,"n":6},{"x":0.245,"y":0.408,"n":8},{"x":0.262,"y":0.408,"n":12},{"x":0.279,"y":0.408,"n":16},{"x":0.296,"y":0.408,"n":24},{"x":0.313,"y":0.408,"n":38},{"x":0.33,"y":0.408,"n":62},{"x":0.346,"y":0.408,"n":100},{"x":0.363,"y":0.408,"n":150},{"x":0.38,"y":0.408,"n":200},{"x":0.397,"y":0.408,"n":245},{"x":0.414,"y":0.408,"n":300},{"x":0.431,"y":0.408,"n":190},{"x":0.448,"y":0.408,"n":135},{"x":0.465,"y":0.408,"n":90},{"x":0.482,"y":0.408,"n":60},{"x":0.499,"y":0.408,"n":42},{"x":0.515,"y":0.408,"n":28},{"x":0.532,"y":0.408,"n":18},{"x":0.549,"y":0.408,"n":13},{"x":0.566,"y":0.408,"n":9},{"x":0.583,"y":0.408,"n":6},{"x":0.6,"y":0.408,"n":4},{"x":0.617,"y":0.408,"n":3},{"x":0.634,"y":0.408,"n":2},{"x":0.651,"y":0.408,"n":1},{"x":0.684,"y":0.408,"n":1},{"x":0.701,"y":0.408,"n":1},
{"x":0.042,"y":0.425,"n":1},{"x":0.076,"y":0.425,"n":1},{"x":0.11,"y":0.425,"n":1},{"x":0.127,"y":0.425,"n":1},{"x":0.144,"y":0.425,"n":2},{"x":0.161,"y":0.425,"n":2},{"x":0.177,"y":0.425,"n":3},{"x":0.194,"y":0.425,"n":4},{"x":0.211,"y":0.425,"n":5},{"x":0.228,"y":0.425,"n":6},{"x":0.245,"y":0.425,"n":7},{"x":0.262,"y":0.425,"n":10},{"x":0.279,"y":0.425,"n":13},{"x":0.296,"y":0.425,"n":18},{"x":0.313,"y":0.425,"n":28},{"x":0.33,"y":0.425,"n":44},{"x":0.346,"y":0.425,"n":68},{"x":0.363,"y":0.425,"n":105},{"x":0.38,"y":0.425,"n":150},{"x":0.397,"y":0.425,"n":195},{"x":0.414,"y":0.425,"n":225},{"x":0.431,"y":0.425,"n":230},{"x":0.448,"y":0.425,"n":160},{"x":0.465,"y":0.425,"n":110},{"x":0.482,"y":0.425,"n":72},{"x":0.499,"y":0.425,"n":45},{"x":0.515,"y":0.425,"n":30},{"x":0.532,"y":0.425,"n":19},{"x":0.549,"y":0.425,"n":13},{"x":0.566,"y":0.425,"n":9},{"x":0.583,"y":0.425,"n":6},{"x":0.6,"y":0.425,"n":4},{"x":0.617,"y":0.425,"n":3},{"x":0.634,"y":0.425,"n":2},{"x":0.651,"y":0.425,"n":1},{"x":0.668,"y":0.425,"n":1},{"x":0.684,"y":0.425,"n":1},{"x":0.701,"y":0.425,"n":1},
{"x":0.042,"y":0.442,"n":1},{"x":0.076,"y":0.442,"n":1},{"x":0.127,"y":0.442,"n":1},{"x":0.144,"y":0.442,"n":2},{"x":0.161,"y":0.442,"n":2},{"x":0.177,"y":0.442,"n":3},{"x":0.194,"y":0.442,"n":3},{"x":0.211,"y":0.442,"n":4},{"x":0.228,"y":0.442,"n":5},{"x":0.245,"y":0.442,"n":6},{"x":0.262,"y":0.442,"n":8},{"x":0.279,"y":0.442,"n":10},{"x":0.296,"y":0.442,"n":14},{"x":0.313,"y":0.442,"n":20},{"x":0.33,"y":0.442,"n":32},{"x":0.346,"y":0.442,"n":48},{"x":0.363,"y":0.442,"n":72},{"x":0.38,"y":0.442,"n":105},{"x":0.397,"y":0.442,"n":145},{"x":0.414,"y":0.442,"n":170},{"x":0.431,"y":0.442,"n":180},{"x":0.448,"y":0.442,"n":190},{"x":0.465,"y":0.442,"n":130},{"x":0.482,"y":0.442,"n":85},{"x":0.499,"y":0.442,"n":52},{"x":0.515,"y":0.442,"n":32},{"x":0.532,"y":0.442,"n":20},{"x":0.549,"y":0.442,"n":13},{"x":0.566,"y":0.442,"n":9},{"x":0.583,"y":0.442,"n":6},{"x":0.6,"y":0.442,"n":4},{"x":0.617,"y":0.442,"n":2},{"x":0.668,"y":0.442,"n":1},{"x":0.701,"y":0.442,"n":1},{"x":0.718,"y":0.442,"n":1},{"x":0.735,"y":0.442,"n":1},{"x":0.769,"y":0.442,"n":1},
{"x":0.076,"y":0.458,"n":1},{"x":0.127,"y":0.458,"n":1},{"x":0.144,"y":0.458,"n":2},{"x":0.161,"y":0.458,"n":2},{"x":0.177,"y":0.458,"n":3},{"x":0.194,"y":0.458,"n":3},{"x":0.211,"y":0.458,"n":4},{"x":0.228,"y":0.458,"n":5},{"x":0.245,"y":0.458,"n":6},{"x":0.262,"y":0.458,"n":7},{"x":0.279,"y":0.458,"n":9},{"x":0.296,"y":0.458,"n":11},{"x":0.313,"y":0.458,"n":16},{"x":0.33,"y":0.458,"n":23},{"x":0.346,"y":0.458,"n":34},{"x":0.363,"y":0.458,"n":50},{"x":0.38,"y":0.458,"n":72},{"x":0.397,"y":0.458,"n":100},{"x":0.414,"y":0.458,"n":125},{"x":0.431,"y":0.458,"n":145},{"x":0.448,"y":0.458,"n":155},{"x":0.465,"y":0.458,"n":160},{"x":0.482,"y":0.458,"n":105},{"x":0.499,"y":0.458,"n":65},{"x":0.515,"y":0.458,"n":38},{"x":0.532,"y":0.458,"n":22},{"x":0.549,"y":0.458,"n":14},{"x":0.566,"y":0.458,"n":9},{"x":0.583,"y":0.458,"n":6},{"x":0.6,"y":0.458,"n":4},{"x":0.617,"y":0.458,"n":3},{"x":0.634,"y":0.458,"n":2},{"x":0.651,"y":0.458,"n":1},{"x":0.668,"y":0.458,"n":1},{"x":0.684,"y":0.458,"n":1},{"x":0.701,"y":0.458,"n":1},{"x":0.718,"y":0.458,"n":1},
{"x":0.059,"y":0.475,"n":1},{"x":0.093,"y":0.475,"n":1},{"x":0.127,"y":0.475,"n":1},{"x":0.144,"y":0.475,"n":1},{"x":0.161,"y":0.475,"n":2},{"x":0.177,"y":0.475,"n":2},{"x":0.194,"y":0.475,"n":3},{"x":0.211,"y":0.475,"n":3},{"x":0.228,"y":0.475,"n":4},{"x":0.245,"y":0.475,"n":5},{"x":0.262,"y":0.475,"n":6},{"x":0.279,"y":0.475,"n":7},{"x":0.296,"y":0.475,"n":9},{"x":0.313,"y":0.475,"n":12},{"x":0.33,"y":0.475,"n":17},{"x":0.346,"y":0.475,"n":24},{"x":0.363,"y":0.475,"n":35},{"x":0.38,"y":0.475,"n":50},{"x":0.397,"y":0.475,"n":70},{"x":0.414,"y":0.475,"n":90},{"x":0.431,"y":0.475,"n":105},{"x":0.448,"y":0.475,"n":115},{"x":0.465,"y":0.475,"n":125},{"x":0.482,"y":0.475,"n":130},{"x":0.499,"y":0.475,"n":80},{"x":0.515,"y":0.475,"n":45},{"x":0.532,"y":0.475,"n":25},{"x":0.549,"y":0.475,"n":15},{"x":0.566,"y":0.475,"n":9},{"x":0.583,"y":0.475,"n":6},{"x":0.6,"y":0.475,"n":4},{"x":0.617,"y":0.475,"n":3},{"x":0.634,"y":0.475,"n":2},{"x":0.651,"y":0.475,"n":1},{"x":0.668,"y":0.475,"n":1},{"x":0.684,"y":0.475,"n":1},{"x":0.701,"y":0.475,"n":1},{"x":0.769,"y":0.475,"n":1},
{"x":0.093,"y":0.492,"n":1},{"x":0.11,"y":0.492,"n":1},{"x":0.127,"y":0.492,"n":1},{"x":0.144,"y":0.492,"n":1},{"x":0.161,"y":0.492,"n":2},{"x":0.177,"y":0.492,"n":2},{"x":0.194,"y":0.492,"n":2},{"x":0.211,"y":0.492,"n":3},{"x":0.228,"y":0.492,"n":3},{"x":0.245,"y":0.492,"n":4},{"x":0.262,"y":0.492,"n":5},{"x":0.279,"y":0.492,"n":6},{"x":0.296,"y":0.492,"n":7},{"x":0.313,"y":0.492,"n":9},{"x":0.33,"y":0.492,"n":12},{"x":0.346,"y":0.492,"n":17},{"x":0.363,"y":0.492,"n":24},{"x":0.38,"y":0.492,"n":34},{"x":0.397,"y":0.492,"n":48},{"x":0.414,"y":0.492,"n":62},{"x":0.431,"y":0.492,"n":75},{"x":0.448,"y":0.492,"n":85},{"x":0.465,"y":0.492,"n":95},{"x":0.482,"y":0.492,"n":100},{"x":0.499,"y":0.492,"n":110},{"x":0.515,"y":0.492,"n":62},{"x":0.532,"y":0.492,"n":34},{"x":0.549,"y":0.492,"n":18},{"x":0.566,"y":0.492,"n":10},{"x":0.583,"y":0.492,"n":6},{"x":0.6,"y":0.492,"n":4},{"x":0.617,"y":0.492,"n":3},{"x":0.634,"y":0.492,"n":2},{"x":0.651,"y":0.492,"n":1},{"x":0.668,"y":0.492,"n":1},{"x":0.684,"y":0.492,"n":1},{"x":0.701,"y":0.492,"n":1},
{"x":0.093,"y":0.508,"n":1},{"x":0.11,"y":0.508,"n":1},{"x":0.127,"y":0.508,"n":1},{"x":0.144,"y":0.508,"n":1},{"x":0.177,"y":0.508,"n":2},{"x":0.194,"y":0.508,"n":2},{"x":0.211,"y":0.508,"n":2},{"x":0.228,"y":0.508,"n":3},{"x":0.245,"y":0.508,"n":3},{"x":0.262,"y":0.508,"n":4},{"x":0.279,"y":0.508,"n":5},{"x":0.296,"y":0.508,"n":5},{"x":0.313,"y":0.508,"n":6},{"x":0.33,"y":0.508,"n":8},{"x":0.346,"y":0.508,"n":11},{"x":0.363,"y":0.508,"n":15},{"x":0.38,"y":0.508,"n":20},{"x":0.397,"y":0.508,"n":28},{"x":0.414,"y":0.508,"n":38},{"x":0.431,"y":0.508,"n":50},{"x":0.448,"y":0.508,"n":60},{"x":0.465,"y":0.508,"n":68},{"x":0.482,"y":0.508,"n":75},{"x":0.499,"y":0.508,"n":80},{"x":0.515,"y":0.508,"n":90},{"x":0.532,"y":0.508,"n":50},{"x":0.549,"y":0.508,"n":26},{"x":0.566,"y":0.508,"n":14},{"x":0.583,"y":0.508,"n":8},{"x":0.6,"y":0.508,"n":5},{"x":0.617,"y":0.508,"n":3},{"x":0.634,"y":0.508,"n":2},{"x":0.651,"y":0.508,"n":1},{"x":0.668,"y":0.508,"n":1},{"x":0.684,"y":0.508,"n":1},{"x":0.786,"y":0.508,"n":1},
{"x":0.127,"y":0.525,"n":1},{"x":0.144,"y":0.525,"n":1},{"x":0.161,"y":0.525,"n":1},{"x":0.177,"y":0.525,"n":1},{"x":0.194,"y":0.525,"n":2},{"x":0.211,"y":0.525,"n":2},{"x":0.228,"y":0.525,"n":2},{"x":0.245,"y":0.525,"n":3},{"x":0.262,"y":0.525,"n":3},{"x":0.279,"y":0.525,"n":4},{"x":0.296,"y":0.525,"n":4},{"x":0.313,"y":0.525,"n":5},{"x":0.33,"y":0.525,"n":6},{"x":0.346,"y":0.525,"n":8},{"x":0.363,"y":0.525,"n":11},{"x":0.38,"y":0.525,"n":14},{"x":0.397,"y":0.525,"n":18},{"x":0.414,"y":0.525,"n":24},{"x":0.431,"y":0.525,"n":30},{"x":0.448,"y":0.525,"n":38},{"x":0.465,"y":0.525,"n":45},{"x":0.482,"y":0.525,"n":52},{"x":0.499,"y":0.525,"n":58},{"x":0.515,"y":0.525,"n":65},{"x":0.532,"y":0.525,"n":75},{"x":0.549,"y":0.525,"n":40},{"x":0.566,"y":0.525,"n":20},{"x":0.583,"y":0.525,"n":11},{"x":0.6,"y":0.525,"n":6},{"x":0.617,"y":0.525,"n":4},{"x":0.634,"y":0.525,"n":2},{"x":0.651,"y":0.525,"n":1},{"x":0.668,"y":0.525,"n":1},{"x":0.684,"y":0.525,"n":1},{"x":0.735,"y":0.525,"n":1},
{"x":0.093,"y":0.542,"n":1},{"x":0.127,"y":0.542,"n":1},{"x":0.144,"y":0.542,"n":1},{"x":0.161,"y":0.542,"n":1},{"x":0.177,"y":0.542,"n":1},{"x":0.194,"y":0.542,"n":2},{"x":0.211,"y":0.542,"n":2},{"x":0.228,"y":0.542,"n":2},{"x":0.245,"y":0.542,"n":2},{"x":0.262,"y":0.542,"n":3},{"x":0.279,"y":0.542,"n":3},{"x":0.296,"y":0.542,"n":4},{"x":0.313,"y":0.542,"n":4},{"x":0.33,"y":0.542,"n":5},{"x":0.346,"y":0.542,"n":6},{"x":0.363,"y":0.542,"n":8},{"x":0.38,"y":0.542,"n":10},{"x":0.397,"y":0.542,"n":13},{"x":0.414,"y":0.542,"n":16},{"x":0.431,"y":0.542,"n":20},{"x":0.448,"y":0.542,"n":26},{"x":0.465,"y":0.542,"n":32},{"x":0.482,"y":0.542,"n":38},{"x":0.499,"y":0.542,"n":44},{"x":0.515,"y":0.542,"n":50},{"x":0.532,"y":0.542,"n":55},{"x":0.549,"y":0.542,"n":60},{"x":0.566,"y":0.542,"n":30},{"x":0.583,"y":0.542,"n":15},{"x":0.6,"y":0.542,"n":8},{"x":0.617,"y":0.542,"n":4},{"x":0.634,"y":0.542,"n":3},{"x":0.651,"y":0.542,"n":2},{"x":0.668,"y":0.542,"n":1},{"x":0.684,"y":0.542,"n":1},{"x":0.701,"y":0.542,"n":1},{"x":0.735,"y":0.542,"n":1},
{"x":0.076,"y":0.558,"n":1},{"x":0.127,"y":0.558,"n":1},{"x":0.144,"y":0.558,"n":1},{"x":0.177,"y":0.558,"n":1},{"x":0.194,"y":0.558,"n":1},{"x":0.211,"y":0.558,"n":2},{"x":0.228,"y":0.558,"n":2},{"x":0.245,"y":0.558,"n":2},{"x":0.262,"y":0.558,"n":2},{"x":0.279,"y":0.558,"n":3},{"x":0.296,"y":0.558,"n":3},{"x":0.313,"y":0.558,"n":3},{"x":0.33,"y":0.558,"n":4},{"x":0.346,"y":0.558,"n":4},{"x":0.363,"y":0.558,"n":5},{"x":0.38,"y":0.558,"n":6},{"x":0.397,"y":0.558,"n":8},{"x":0.414,"y":0.558,"n":10},{"x":0.431,"y":0.558,"n":12},{"x":0.448,"y":0.558,"n":15},{"x":0.465,"y":0.558,"n":18},{"x":0.482,"y":0.558,"n":22},{"x":0.499,"y":0.558,"n":28},{"x":0.515,"y":0.558,"n":34},{"x":0.532,"y":0.558,"n":40},{"x":0.549,"y":0.558,"n":44},{"x":0.566,"y":0.558,"n":48},{"x":0.583,"y":0.558,"n":24},{"x":0.6,"y":0.558,"n":12},{"x":0.617,"y":0.558,"n":6},{"x":0.634,"y":0.558,"n":3},{"x":0.651,"y":0.558,"n":2},{"x":0.668,"y":0.558,"n":1},{"x":0.684,"y":0.558,"n":1},{"x":0.701,"y":0.558,"n":1},{"x":0.718,"y":0.558,"n":1},{"x":0.786,"y":0.558,"n":1},
{"x":0.11,"y":0.575,"n":1},{"x":0.127,"y":0.575,"n":1},{"x":0.161,"y":0.575,"n":1},{"x":0.194,"y":0.575,"n":1},{"x":0.211,"y":0.575,"n":1},{"x":0.228,"y":0.575,"n":2},{"x":0.245,"y":0.575,"n":2},{"x":0.262,"y":0.575,"n":2},{"x":0.279,"y":0.575,"n":2},{"x":0.296,"y":0.575,"n":3},{"x":0.313,"y":0.575,"n":3},{"x":0.33,"y":0.575,"n":3},{"x":0.346,"y":0.575,"n":3},{"x":0.363,"y":0.575,"n":4},{"x":0.38,"y":0.575,"n":5},{"x":0.397,"y":0.575,"n":6},{"x":0.414,"y":0.575,"n":7},{"x":0.431,"y":0.575,"n":8},{"x":0.448,"y":0.575,"n":10},{"x":0.465,"y":0.575,"n":12},{"x":0.482,"y":0.575,"n":15},{"x":0.499,"y":0.575,"n":18},{"x":0.515,"y":0.575,"n":22},{"x":0.532,"y":0.575,"n":27},{"x":0.549,"y":0.575,"n":32},{"x":0.566,"y":0.575,"n":35},{"x":0.583,"y":0.575,"n":38},{"x":0.6,"y":0.575,"n":18},{"x":0.617,"y":0.575,"n":9},{"x":0.634,"y":0.575,"n":4},{"x":0.651,"y":0.575,"n":2},{"x":0.668,"y":0.575,"n":1},{"x":0.684,"y":0.575,"n":1},{"x":0.701,"y":0.575,"n":1},{"x":0.718,"y":0.575,"n":1},{"x":0.735,"y":0.575,"n":1},{"x":0.752,"y":0.575,"n":1},
{"x":0.093,"y":0.592,"n":1},{"x":0.127,"y":0.592,"n":1},{"x":0.144,"y":0.592,"n":1},{"x":0.161,"y":0.592,"n":1},{"x":0.211,"y":0.592,"n":1},{"x":0.228,"y":0.592,"n":1},{"x":0.245,"y":0.592,"n":1},{"x":0.262,"y":0.592,"n":2},{"x":0.279,"y":0.592,"n":2},{"x":0.296,"y":0.592,"n":2},{"x":0.313,"y":0.592,"n":2},{"x":0.33,"y":0.592,"n":3},{"x":0.346,"y":0.592,"n":3},{"x":0.363,"y":0.592,"n":3},{"x":0.38,"y":0.592,"n":4},{"x":0.397,"y":0.592,"n":4},{"x":0.414,"y":0.592,"n":5},{"x":0.431,"y":0.592,"n":6},{"x":0.448,"y":0.592,"n":7},{"x":0.465,"y":0.592,"n":8},{"x":0.482,"y":0.592,"n":10},{"x":0.499,"y":0.592,"n":12},{"x":0.515,"y":0.592,"n":14},{"x":0.532,"y":0.592,"n":16},{"x":0.549,"y":0.592,"n":20},{"x":0.566,"y":0.592,"n":24},{"x":0.583,"y":0.592,"n":26},{"x":0.6,"y":0.592,"n":28},{"x":0.617,"y":0.592,"n":13},{"x":0.634,"y":0.592,"n":6},{"x":0.651,"y":0.592,"n":3},{"x":0.668,"y":0.592,"n":2},{"x":0.684,"y":0.592,"n":1},{"x":0.701,"y":0.592,"n":1},{"x":0.718,"y":0.592,"n":1},{"x":0.735,"y":0.592,"n":1},
{"x":0.093,"y":0.608,"n":1},{"x":0.11,"y":0.608,"n":1},{"x":0.144,"y":0.608,"n":1},{"x":0.161,"y":0.608,"n":1},{"x":0.194,"y":0.608,"n":1},{"x":0.211,"y":0.608,"n":1},{"x":0.228,"y":0.608,"n":1},{"x":0.245,"y":0.608,"n":1},{"x":0.262,"y":0.608,"n":1},{"x":0.279,"y":0.608,"n":1},{"x":0.296,"y":0.608,"n":1},{"x":0.346,"y":0.608,"n":2},{"x":0.363,"y":0.608,"n":2},{"x":0.38,"y":0.608,"n":3},{"x":0.397,"y":0.608,"n":3},{"x":0.414,"y":0.608,"n":3},{"x":0.431,"y":0.608,"n":4},{"x":0.448,"y":0.608,"n":4},{"x":0.465,"y":0.608,"n":5},{"x":0.482,"y":0.608,"n":6},{"x":0.499,"y":0.608,"n":7},{"x":0.515,"y":0.608,"n":8},{"x":0.532,"y":0.608,"n":9},{"x":0.549,"y":0.608,"n":11},{"x":0.566,"y":0.608,"n":13},{"x":0.583,"y":0.608,"n":15},{"x":0.6,"y":0.608,"n":18},{"x":0.617,"y":0.608,"n":20},{"x":0.634,"y":0.608,"n":9},{"x":0.651,"y":0.608,"n":4},{"x":0.668,"y":0.608,"n":2},{"x":0.701,"y":0.608,"n":1},{"x":0.718,"y":0.608,"n":1},
{"x":0.076,"y":0.625,"n":1},{"x":0.093,"y":0.625,"n":1},{"x":0.11,"y":0.625,"n":1},{"x":0.127,"y":0.625,"n":1},{"x":0.144,"y":0.625,"n":1},{"x":0.161,"y":0.625,"n":1},{"x":0.194,"y":0.625,"n":1},{"x":0.211,"y":0.625,"n":1},{"x":0.228,"y":0.625,"n":1},{"x":0.262,"y":0.625,"n":1},{"x":0.279,"y":0.625,"n":1},{"x":0.296,"y":0.625,"n":1},{"x":0.313,"y":0.625,"n":1},{"x":0.33,"y":0.625,"n":1},{"x":0.346,"y":0.625,"n":2},{"x":0.363,"y":0.625,"n":2},{"x":0.38,"y":0.625,"n":2},{"x":0.397,"y":0.625,"n":2},{"x":0.414,"y":0.625,"n":2},{"x":0.431,"y":0.625,"n":3},{"x":0.448,"y":0.625,"n":3},{"x":0.465,"y":0.625,"n":3},{"x":0.482,"y":0.625,"n":4},{"x":0.499,"y":0.625,"n":4},{"x":0.515,"y":0.625,"n":5},{"x":0.532,"y":0.625,"n":5},{"x":0.549,"y":0.625,"n":6},{"x":0.566,"y":0.625,"n":7},{"x":0.583,"y":0.625,"n":8},{"x":0.6,"y":0.625,"n":10},{"x":0.617,"y":0.625,"n":12},{"x":0.634,"y":0.625,"n":15},{"x":0.651,"y":0.625,"n":6},{"x":0.668,"y":0.625,"n":3},{"x":0.701,"y":0.625,"n":1},{"x":0.718,"y":0.625,"n":1},
{"x":0.059,"y":0.642,"n":1},{"x":0.076,"y":0.642,"n":1},{"x":0.127,"y":0.642,"n":1},{"x":0.144,"y":0.642,"n":1},{"x":0.194,"y":0.642,"n":1},{"x":0.211,"y":0.642,"n":1},{"x":0.245,"y":0.642,"n":1},{"x":0.262,"y":0.642,"n":1},{"x":0.279,"y":0.642,"n":1},{"x":0.313,"y":0.642,"n":1},{"x":0.33,"y":0.642,"n":1},{"x":0.346,"y":0.642,"n":1},{"x":0.363,"y":0.642,"n":1},{"x":0.38,"y":0.642,"n":1},{"x":0.397,"y":0.642,"n":2},{"x":0.431,"y":0.642,"n":2},{"x":0.448,"y":0.642,"n":2},{"x":0.465,"y":0.642,"n":2},{"x":0.482,"y":0.642,"n":2},{"x":0.499,"y":0.642,"n":3},{"x":0.515,"y":0.642,"n":3},{"x":0.532,"y":0.642,"n":3},{"x":0.549,"y":0.642,"n":4},{"x":0.566,"y":0.642,"n":4},{"x":0.583,"y":0.642,"n":5},{"x":0.6,"y":0.642,"n":6},{"x":0.617,"y":0.642,"n":7},{"x":0.634,"y":0.642,"n":9},{"x":0.651,"y":0.642,"n":10},{"x":0.668,"y":0.642,"n":5},{"x":0.684,"y":0.642,"n":3},{"x":0.701,"y":0.642,"n":2},{"x":0.718,"y":0.642,"n":1},{"x":0.735,"y":0.642,"n":1},
{"x":0.076,"y":0.658,"n":1},{"x":0.127,"y":0.658,"n":1},{"x":0.144,"y":0.658,"n":1},{"x":0.177,"y":0.658,"n":1},{"x":0.228,"y":0.658,"n":1},{"x":0.245,"y":0.658,"n":1},{"x":0.262,"y":0.658,"n":1},{"x":0.279,"y":0.658,"n":1},{"x":0.296,"y":0.658,"n":1},{"x":0.313,"y":0.658,"n":1},{"x":0.33,"y":0.658,"n":1},{"x":0.363,"y":0.658,"n":1},{"x":0.38,"y":0.658,"n":1},{"x":0.397,"y":0.658,"n":1},{"x":0.414,"y":0.658,"n":1},{"x":0.431,"y":0.658,"n":1},{"x":0.448,"y":0.658,"n":1},{"x":0.465,"y":0.658,"n":1},{"x":0.515,"y":0.658,"n":2},{"x":0.532,"y":0.658,"n":2},{"x":0.549,"y":0.658,"n":2},{"x":0.566,"y":0.658,"n":3},{"x":0.583,"y":0.658,"n":3},{"x":0.6,"y":0.658,"n":3},{"x":0.617,"y":0.658,"n":4},{"x":0.634,"y":0.658,"n":4},{"x":0.651,"y":0.658,"n":6},{"x":0.668,"y":0.658,"n":7},{"x":0.684,"y":0.658,"n":3},{"x":0.701,"y":0.658,"n":2},{"x":0.718,"y":0.658,"n":1},
{"x":0.059,"y":0.675,"n":1},{"x":0.093,"y":0.675,"n":1},{"x":0.194,"y":0.675,"n":1},{"x":0.211,"y":0.675,"n":1},{"x":0.228,"y":0.675,"n":1},{"x":0.245,"y":0.675,"n":1},{"x":0.262,"y":0.675,"n":1},{"x":0.346,"y":0.675,"n":1},{"x":0.38,"y":0.675,"n":1},{"x":0.397,"y":0.675,"n":1},{"x":0.414,"y":0.675,"n":1},{"x":0.431,"y":0.675,"n":1},{"x":0.465,"y":0.675,"n":1},{"x":0.499,"y":0.675,"n":1},{"x":0.515,"y":0.675,"n":1},{"x":0.532,"y":0.675,"n":1},{"x":0.549,"y":0.675,"n":1},{"x":0.583,"y":0.675,"n":1},{"x":0.6,"y":0.675,"n":2},{"x":0.617,"y":0.675,"n":2},{"x":0.634,"y":0.675,"n":2},{"x":0.651,"y":0.675,"n":3},{"x":0.668,"y":0.675,"n":4},{"x":0.684,"y":0.675,"n":5},{"x":0.701,"y":0.675,"n":3},{"x":0.735,"y":0.675,"n":1},{"x":0.837,"y":0.675,"n":1},
{"x":0.11,"y":0.692,"n":1},{"x":0.245,"y":0.692,"n":1},{"x":0.262,"y":0.692,"n":1},{"x":0.279,"y":0.692,"n":1},{"x":0.296,"y":0.692,"n":1},{"x":0.363,"y":0.692,"n":1},{"x":0.38,"y":0.692,"n":1},{"x":0.397,"y":0.692,"n":1},{"x":0.448,"y":0.692,"n":1},{"x":0.465,"y":0.692,"n":1},{"x":0.515,"y":0.692,"n":1},{"x":0.532,"y":0.692,"n":1},{"x":0.583,"y":0.692,"n":1},{"x":0.6,"y":0.692,"n":1},{"x":0.617,"y":0.692,"n":1},{"x":0.634,"y":0.692,"n":1},{"x":0.651,"y":0.692,"n":2},{"x":0.668,"y":0.692,"n":2},{"x":0.684,"y":0.692,"n":3},{"x":0.701,"y":0.692,"n":3},{"x":0.718,"y":0.692,"n":2},{"x":0.735,"y":0.692,"n":1},{"x":0.769,"y":0.692,"n":1},
{"x":0.11,"y":0.708,"n":1},{"x":0.177,"y":0.708,"n":1},{"x":0.194,"y":0.708,"n":1},{"x":0.262,"y":0.708,"n":1},{"x":0.279,"y":0.708,"n":1},{"x":0.431,"y":0.708,"n":1},{"x":0.515,"y":0.708,"n":1},{"x":0.6,"y":0.708,"n":1},{"x":0.617,"y":0.708,"n":1},{"x":0.634,"y":0.708,"n":1},{"x":0.651,"y":0.708,"n":1},{"x":0.668,"y":0.708,"n":1},{"x":0.684,"y":0.708,"n":2},{"x":0.701,"y":0.708,"n":2},{"x":0.718,"y":0.708,"n":2},{"x":0.735,"y":0.708,"n":2},{"x":0.752,"y":0.708,"n":1},{"x":0.769,"y":0.708,"n":1},
{"x":0.093,"y":0.725,"n":1},{"x":0.279,"y":0.725,"n":1},{"x":0.33,"y":0.725,"n":1},{"x":0.346,"y":0.725,"n":1},{"x":0.38,"y":0.725,"n":1},{"x":0.397,"y":0.725,"n":1},{"x":0.431,"y":0.725,"n":1},{"x":0.549,"y":0.725,"n":1},{"x":0.684,"y":0.725,"n":1},{"x":0.701,"y":0.725,"n":1},{"x":0.718,"y":0.725,"n":2},{"x":0.735,"y":0.725,"n":2},{"x":0.752,"y":0.725,"n":1},{"x":0.769,"y":0.725,"n":1},
{"x":0.194,"y":0.742,"n":1},{"x":0.211,"y":0.742,"n":1},{"x":0.38,"y":0.742,"n":1},{"x":0.431,"y":0.742,"n":1},{"x":0.448,"y":0.742,"n":1},{"x":0.465,"y":0.742,"n":1},{"x":0.532,"y":0.742,"n":1},{"x":0.549,"y":0.742,"n":1},{"x":0.617,"y":0.742,"n":1},{"x":0.634,"y":0.742,"n":1},{"x":0.651,"y":0.742,"n":1},{"x":0.701,"y":0.742,"n":1},{"x":0.718,"y":0.742,"n":2},{"x":0.735,"y":0.742,"n":1},{"x":0.752,"y":0.742,"n":1},{"x":0.769,"y":0.742,"n":1},
{"x":0.211,"y":0.758,"n":1},{"x":0.482,"y":0.758,"n":1},{"x":0.634,"y":0.758,"n":1},{"x":0.701,"y":0.758,"n":1},{"x":0.718,"y":0.758,"n":1},{"x":0.752,"y":0.758,"n":1},{"x":0.769,"y":0.758,"n":1},
{"x":0.127,"y":0.775,"n":1},{"x":0.499,"y":0.775,"n":1},{"x":0.532,"y":0.775,"n":1},{"x":0.617,"y":0.775,"n":1},{"x":0.684,"y":0.775,"n":1},{"x":0.701,"y":0.775,"n":1},{"x":0.769,"y":0.775,"n":1},{"x":0.786,"y":0.775,"n":1},
{"x":0.803,"y":0.792,"n":1},
{"x":0.718,"y":0.808,"n":1},{"x":0.82,"y":0.808,"n":1},{"x":0.837,"y":0.808,"n":1},
{"x":0.752,"y":0.825,"n":1},{"x":0.837,"y":0.825,"n":1}
],
"diag":[{"a":-0.02,"b":-0.02},{"a":1.01,"b":1.01}],
"empty":[{"k":0}]
},
"bounds":"flush",
"spacing":57.5,
"resolve":{"scale":{"color":"independent"},"legend":{"color":"independent"}},
"vconcat":[
{"width":1052,"height":227.5,
"title":{"text":"A.","anchor":"start","frame":"group","fontSize":31,"dx":-116,"dy":0},
"layer":[
{"data":{"name":"violinA"},"mark":{"type":"area","orient":"horizontal","interpolate":"monotone"},
"encoding":{
"y":{"field":"v","type":"quantitative","scale":{"domain":[-0.1,1.5],"nice":false},"axis":{"values":[0,0.5,1,1.5],"format":".1f","title":"Proportion (%)","labelFontSize":20,"titleFontSize":22.5,"tickSize":8,"tickWidth":1.8,"domainWidth":2,"labelPadding":6,"titlePadding":9}},
"x":{"field":"lo","type":"quantitative","scale":{"domain":[-0.5,4.5],"nice":false},"axis":{"values":[0,1,2,3,4],"labelExpr":"['GBR (EUR)','CHB (EAS)','ITU (SAS)','YRI (wAFR)','LWK (eAFR)'][datum.value]","title":null,"labelFontSize":20.5,"tickSize":8,"tickWidth":1.8,"domainWidth":2,"labelPadding":5}},
"x2":{"field":"hi"},
"detail":{"field":"pop"},
"color":{"field":"sp","type":"nominal","scale":{"domain":["Neanderthal","Denisovan","Ghost"],"range":["#7bafd2","#e99f6f","#d56b7d"]},
"legend":{"title":null,"orient":"none","direction":"horizontal","columns":3,"legendX":194,"legendY":-26,"symbolType":"M-2.47,-1H2.47V1H-2.47Z","symbolSize":289,"symbolStrokeColor":"#555","symbolStrokeWidth":1.4,"symbolOpacity":1,"labelFontSize":20.8,"labelColor":"#111","labelOffset":25,"columnPadding":46,"gridAlign":"each"}}
}},
{"data":{"name":"boxA"},"mark":{"type":"rule","color":"#555","strokeWidth":2.6},"encoding":{"x":{"field":"c","type":"quantitative"},"y":{"field":"wlo","type":"quantitative"},"y2":{"field":"whi"}}},
{"data":{"name":"boxA"},"mark":{"type":"rule","color":"#555","strokeWidth":6.5},"encoding":{"x":{"field":"c","type":"quantitative"},"y":{"field":"q1","type":"quantitative"},"y2":{"field":"q3"}}},
{"data":{"name":"boxA"},"mark":{"type":"tick","orient":"horizontal","color":"white","size":6,"thickness":1.6},"encoding":{"x":{"field":"c","type":"quantitative"},"y":{"field":"med","type":"quantitative"}}}
]},
{"bounds":"flush","spacing":0,"hconcat":[
{"width":18,"height":10,"data":{"name":"empty"},"mark":{"type":"point","opacity":0},"encoding":{}},
{"width":377,"height":382,
"title":{"text":"B.","anchor":"start","frame":"group","fontSize":31,"dx":-134,"dy":45},
"layer":[
{"data":{"name":"violinB"},"mark":{"type":"area","orient":"horizontal","interpolate":"monotone"},
"encoding":{
"y":{"field":"v","type":"quantitative","scale":{"domain":[-0.1,1.7],"nice":false},"axis":{"values":[0,0.5,1,1.5],"format":".1f","title":"Proportion (%)","labelFontSize":25,"titleFontSize":27.5,"tickSize":8,"tickWidth":1.8,"domainWidth":2,"labelPadding":8,"titlePadding":9}},
"x":{"field":"lo","type":"quantitative","scale":{"domain":[-0.5,1.48],"nice":false},"axis":{"values":[0,1],"labelExpr":"['wAFR','nonAFR'][datum.value]","title":null,"labelFontSize":24.5,"tickSize":8,"tickWidth":1.8,"domainWidth":2,"labelPadding":8}},
"x2":{"field":"hi"},
"detail":{"field":"pop"},
"color":{"field":"sp","type":"nominal","scale":{"domain":["Total","Shared"],"range":["#d56b7d","#edb0a1"]},
"legend":{"title":null,"orient":"none","direction":"vertical","legendX":252,"legendY":18,"symbolType":"M-2.47,-1H2.47V1H-2.47Z","symbolSize":289,"symbolStrokeColor":"#555","symbolStrokeWidth":1.4,"symbolOpacity":1,"labelFontSize":21.5,"labelColor":"#111","labelOffset":30,"rowPadding":7}}
}},
{"data":{"name":"boxB"},"mark":{"type":"rule","color":"#555","strokeWidth":3},"encoding":{"x":{"field":"c","type":"quantitative"},"y":{"field":"wlo","type":"quantitative"},"y2":{"field":"whi"}}},
{"data":{"name":"boxB"},"mark":{"type":"rule","color":"#555","strokeWidth":8},"encoding":{"x":{"field":"c","type":"quantitative"},"y":{"field":"q1","type":"quantitative"},"y2":{"field":"q3"}}},
{"data":{"name":"boxB"},"mark":{"type":"tick","orient":"horizontal","color":"white","size":7,"thickness":1.8},"encoding":{"x":{"field":"c","type":"quantitative"},"y":{"field":"med","type":"quantitative"}}}
]},
{"width":134,"height":10,"data":{"name":"empty"},"mark":{"type":"point","opacity":0},"encoding":{}},
{"bounds":"flush","spacing":0,"vconcat":[
{"width":307,"height":24.7,"title":{"text":"C.","anchor":"start","frame":"group","fontSize":31,"dx":-99,"dy":45},"data":{"name":"empty"},"mark":{"type":"point","opacity":0},"encoding":{}},
{"width":307,"height":354.3,
"view":{"stroke":"#333","strokeWidth":1.6},
"title":{"text":"TRACE Ghost Archaic Affinity, wAFR","fontSize":18.7,"anchor":"middle","offset":-1},
"layer":[
{"data":{"name":"heat"},"mark":{"type":"rect","width":5.5,"height":6.2},
"encoding":{
"x":{"field":"x","type":"quantitative","scale":{"domain":[-0.019,1.009],"nice":false},"axis":{"values":[0,0.25,0.5,0.75,1],"format":".2f","title":"Affinity to Neanderthal","labelFontSize":16.5,"titleFontSize":18.7,"tickSize":7,"tickWidth":1.4,"domain":false,"labelPadding":4,"titlePadding":4}},
"y":{"field":"y","type":"quantitative","scale":{"domain":[-0.02,1.0096],"nice":false},"axis":{"values":[0,0.2,0.4,0.6,0.8,1],"format":".1f","title":"Affinity to Denisovan","labelFontSize":16.5,"titleFontSize":18.7,"tickSize":7,"tickWidth":1.4,"domain":false,"labelPadding":4,"titlePadding":6}},
"color":{"field":"n","type":"quantitative","scale":{"scheme":"viridis","domain":[0,322]},
"legend":{"title":"Density","orient":"none","legendX":327,"legendY":26,"direction":"vertical","gradientLength":354,"gradientThickness":17,"gradientStrokeColor":"#222","gradientStrokeWidth":1.2,"values":[0,50,100,150,200,250,300],"labelFontSize":16.5,"labelColor":"#111","labelOffset":8,"titleOrient":"right","titlePadding":27,"titleFontSize":17,"titleFontWeight":"normal","titleAngle":-90,"titleAnchor":"middle","titleColor":"#111","encode":{"labels":{"update":{"baseline":{"value":"middle"}}},"title":{"update":{"angle":{"value":270}}}}}}
}},
{"data":{"name":"diag"},"mark":{"type":"line","color":"#e8101c","strokeWidth":1.6,"strokeDash":[5,2.5],"clip":true},"encoding":{"x":{"field":"a","type":"quantitative"},"y":{"field":"b","type":"quantitative"}}}
]}
]}
]}
]}
